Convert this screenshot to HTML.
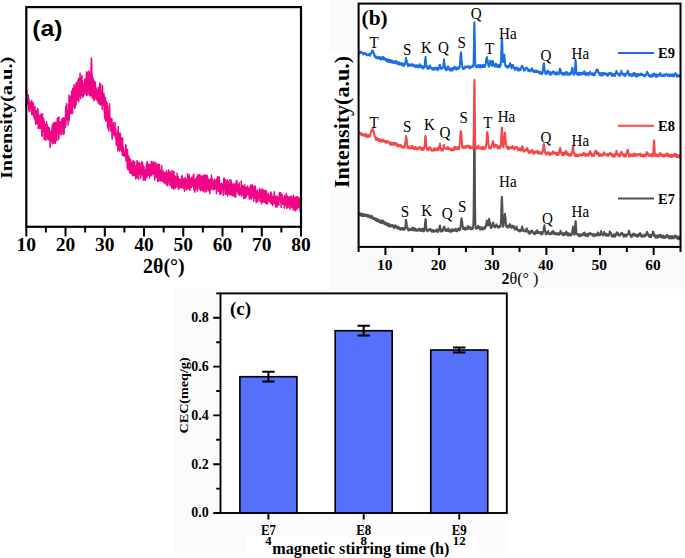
<!DOCTYPE html><html><head><meta charset="utf-8"><style>html,body{margin:0;padding:0;background:#fff;}svg{display:block;}text{font-family:"Liberation Serif",serif;}</style></head><body>
<svg width="685" height="558" viewBox="0 0 685 558">
<rect x="0" y="0" width="685" height="558" fill="#fff"/>
<rect x="331" y="0" width="354" height="289" fill="#fafafa"/>
<rect x="174" y="289" width="334.5" height="263.5" fill="#fbfbfb"/>
<rect x="245.7" y="536" width="229.3" height="22" fill="#fff"/>
<rect x="358.6" y="3.6" width="322" height="243.3" fill="#fff"/>
<rect x="331" y="51" width="20.5" height="140" fill="#fff"/>
<g>
<path d="M26.3,109.18 26.44,98.59 26.59,97.64 26.73,89.82 26.88,100.3 27.02,98.76 27.17,97.73 27.31,102.23 27.46,102.86 27.6,95.27 27.75,96.29 27.89,98.49 28.03,104.6 28.18,104.21 28.32,94.93 28.47,96.16 28.61,105.89 28.76,110.41 28.9,102.52 29.05,99.49 29.19,108.75 29.34,101.92 29.48,107.4 29.63,111.8 29.77,107.44 29.91,104.92 30.06,108.48 30.2,101.89 30.35,104.48 30.49,102.78 30.64,104.89 30.78,103.76 30.93,105.52 31.07,104.83 31.22,107.41 31.36,107.55 31.5,108.96 31.65,114.62 31.79,100.51 31.94,114.61 32.08,107.43 32.23,102.89 32.37,108.29 32.52,109.83 32.66,114.79 32.81,104.83 32.95,111.24 33.1,111.03 33.24,102.7 33.38,105.35 33.53,114.12 33.67,114.83 33.82,116.95 33.96,114.59 34.11,114.2 34.25,113.19 34.4,118.55 34.54,109.2 34.69,112.75 34.83,115.48 34.97,106.61 35.12,120.3 35.26,110.69 35.41,114.29 35.55,124.33 35.7,111.13 35.84,112.77 35.99,123.03 36.13,110.54 36.28,113.88 36.42,118.71 36.57,118.65 36.71,119.56 36.85,118.7 37,123.76 37.14,122.38 37.29,120.52 37.43,114.33 37.58,114.38 37.72,108.53 37.87,121.93 38.01,109.33 38.16,123.4 38.3,128.63 38.44,113.82 38.59,115.99 38.73,117.28 38.88,124.36 39.02,115.67 39.17,119.75 39.31,117.89 39.46,119.55 39.6,128.04 39.75,116.15 39.89,121.95 40.03,123.26 40.18,126.69 40.32,115.31 40.47,128.59 40.61,125.08 40.76,127.75 40.9,123.53 41.05,114.19 41.19,119.94 41.34,128.4 41.48,124.23 41.63,123.97 41.77,134.68 41.91,136.14 42.06,124.7 42.2,136.29 42.35,113.82 42.49,113.96 42.64,130.87 42.78,124.5 42.93,129.66 43.07,129.53 43.22,126.18 43.36,130.98 43.5,128.05 43.65,118.2 43.79,128.92 43.94,128.94 44.08,139.15 44.23,121.41 44.37,128.6 44.52,126.12 44.66,128.12 44.81,139.39 44.95,131.7 45.1,126.68 45.24,130.73 45.38,134.75 45.53,123.99 45.67,128.74 45.82,140.24 45.96,136.16 46.11,130.73 46.25,128.22 46.4,130.45 46.54,121.87 46.69,137.78 46.83,134.2 46.97,133.12 47.12,124.24 47.26,128.13 47.41,136.14 47.55,134.71 47.7,130.12 47.84,136.71 47.99,139.69 48.13,129.59 48.28,130.71 48.42,128.74 48.57,127.1 48.71,139.85 48.85,138.22 49,137.33 49.14,127.78 49.29,128.79 49.43,135.32 49.58,133.29 49.72,136.71 49.87,131.3 50.01,140.01 50.16,147.37 50.3,145.63 50.44,145.95 50.59,135.87 50.73,141.3 50.88,132.79 51.02,141.11 51.17,132.61 51.31,131.81 51.46,130.72 51.6,139.32 51.75,136.49 51.89,135.83 52.04,127.19 52.18,135.37 52.32,125.09 52.47,143.78 52.61,133.35 52.76,135.35 52.9,133.34 53.05,123.77 53.19,125.05 53.34,133.58 53.48,143.23 53.63,126.45 53.77,128.99 53.91,133.11 54.06,122.55 54.2,122.41 54.35,130.53 54.49,132.78 54.64,130.48 54.78,142.61 54.93,131.69 55.07,134.9 55.22,142.64 55.36,143.19 55.5,122.18 55.65,129.75 55.79,139.38 55.94,123.18 56.08,125.95 56.23,123.47 56.37,122.96 56.52,124.28 56.66,132.43 56.81,139.19 56.95,140.7 57.1,131.04 57.24,118.46 57.38,130.37 57.53,128.48 57.67,132.7 57.82,129.57 57.96,119.01 58.11,132.72 58.25,117.51 58.4,125.59 58.54,131.73 58.69,131.85 58.83,139.35 58.97,116.97 59.12,131.43 59.26,133.48 59.41,127.04 59.55,132.88 59.7,121.83 59.84,132.52 59.99,131.54 60.13,121.86 60.28,123.57 60.42,126.31 60.57,123.12 60.71,133.64 60.85,127.9 61,134.95 61.14,133.85 61.29,126.47 61.43,124.6 61.58,119.46 61.72,120.13 61.87,119.89 62.01,127.19 62.16,118.83 62.3,124.95 62.44,125.47 62.59,120.64 62.73,122.47 62.88,133.22 63.02,134.15 63.17,117.7 63.31,121.45 63.46,119.99 63.6,120.41 63.75,132.66 63.89,126.58 64.04,130.35 64.18,133.76 64.32,118.04 64.47,119.52 64.61,120.76 64.76,127.39 64.9,119.12 65.05,124.02 65.19,127.39 65.34,127 65.48,121.54 65.63,112.38 65.77,106.56 65.91,125.29 66.06,120.19 66.2,109.9 66.35,112.63 66.49,112.67 66.64,103.58 66.78,116.96 66.93,109.2 67.07,112.36 67.22,119.38 67.36,113.07 67.5,117.27 67.65,116.05 67.79,112.91 67.94,112.68 68.08,125.25 68.23,110.41 68.37,122.88 68.52,104.4 68.66,115.76 68.81,111.43 68.95,104.66 69.1,95.24 69.24,120.52 69.38,100.58 69.53,101.63 69.67,109.1 69.82,108.27 69.96,109.53 70.11,105.41 70.25,96.23 70.4,112.76 70.54,99.83 70.69,107.54 70.83,109.71 70.97,113.71 71.12,103.45 71.26,102.51 71.41,102.71 71.55,90.95 71.7,98.38 71.84,96.3 71.99,94.96 72.13,103.96 72.28,100.25 72.42,113.4 72.57,112.31 72.71,88.23 72.85,102.04 73,93.82 73.14,104.46 73.29,101.34 73.43,106.44 73.58,101.77 73.72,104.61 73.87,96.86 74.01,84.62 74.16,90.02 74.3,92.02 74.44,94.25 74.59,90.28 74.73,108.43 74.88,95.53 75.02,105.42 75.17,93.69 75.31,107.25 75.46,87.05 75.6,99.25 75.75,85.51 75.89,97.5 76.04,105.12 76.18,82.44 76.32,87.41 76.47,94.83 76.61,91.52 76.76,83.01 76.9,100.16 77.05,92.19 77.19,100.44 77.34,93.38 77.48,82.9 77.63,87.22 77.77,99.73 77.91,80.34 78.06,86.36 78.2,93.37 78.35,95.89 78.49,94.27 78.64,78.15 78.78,101.65 78.93,86.48 79.07,87.37 79.22,86.98 79.36,85.4 79.51,80.36 79.65,84.72 79.79,95.97 79.94,77.63 80.08,73.26 80.23,90.55 80.37,89.19 80.52,91.85 80.66,98.7 80.81,81.85 80.95,88.04 81.1,90.27 81.24,95.29 81.38,93.86 81.53,80.93 81.67,77.21 81.82,84.84 81.96,75.52 82.11,94.42 82.25,83.94 82.4,84.19 82.54,80.45 82.69,97.29 82.83,88.64 82.97,83.73 83.12,90.89 83.26,85.99 83.41,90.74 83.55,95.84 83.7,84.67 83.84,90.14 83.99,89.89 84.13,94.52 84.28,90.68 84.42,86.66 84.57,81.84 84.71,88.47 84.85,78.89 85,90.98 85.14,86.71 85.29,90.17 85.43,82.52 85.58,80.48 85.72,79.66 85.87,94.03 86.01,84.55 86.16,84.44 86.3,73.29 86.44,85.61 86.59,71.73 86.73,95.67 86.88,84.21 87.02,86.05 87.17,75.69 87.31,78.03 87.46,90.13 87.6,84.3 87.75,88.82 87.89,94.79 88.04,90.43 88.18,72.13 88.32,78.62 88.47,77.51 88.61,79.09 88.76,71.29 88.9,71.26 89.05,80.23 89.19,81.35 89.34,89.38 89.48,83.47 89.63,96.01 89.77,72.94 89.91,76.13 90.06,87.91 90.2,84.28 90.35,79.34 90.49,91.78 90.64,94.06 90.78,95.65 90.93,83.89 91.07,86.68 91.22,88.37 91.36,87.29 91.51,93.88 91.65,83.78 91.79,89.64 91.94,73.96 92.08,92.33 92.23,98.21 92.37,87.34 92.52,94.34 92.66,76.93 92.81,85.63 92.95,77.99 93.1,89.97 93.24,91.34 93.38,79.5 93.53,82.91 93.67,84.65 93.82,100.76 93.96,88.02 94.11,89.39 94.25,91.07 94.4,90.9 94.54,87.88 94.69,81.6 94.83,85.73 94.97,99.62 95.12,91.72 95.26,88.22 95.41,82.57 95.55,90.53 95.7,91.28 95.84,87.36 95.99,96.95 96.13,88.16 96.28,90.94 96.42,97.38 96.57,93.8 96.71,99.61 96.85,91.43 97,90.37 97.14,96.25 97.29,94.88 97.43,101.27 97.58,96.56 97.72,94.02 97.87,97.3 98.01,98.86 98.16,87.6 98.3,94.15 98.44,93.12 98.59,103.39 98.73,92.55 98.88,103 99.02,87.73 99.17,95.9 99.31,103.56 99.46,94.82 99.6,104.49 99.75,83.32 99.89,97.2 100.04,98.26 100.18,96.45 100.32,87.13 100.47,102.17 100.61,84.01 100.76,104.42 100.9,100.05 101.05,105 101.19,96.58 101.34,90.79 101.48,95.06 101.63,95.56 101.77,103.09 101.91,96.91 102.06,102.12 102.2,102.76 102.35,109.48 102.49,85.74 102.64,97 102.78,104.83 102.93,105.01 103.07,96.35 103.22,98.6 103.36,99.96 103.51,101.71 103.65,96.93 103.79,96.51 103.94,93.56 104.08,99.26 104.23,112.33 104.37,96.08 104.52,110.22 104.66,117.69 104.81,105.69 104.95,118.93 105.1,104.13 105.24,117.64 105.38,105.71 105.53,97.72 105.67,109.48 105.82,121.12 105.96,103.58 106.11,111.82 106.25,101.5 106.4,102.76 106.54,113.01 106.69,108.77 106.83,114.73 106.98,120.39 107.12,102.79 107.26,106.86 107.41,112.71 107.55,127.3 107.7,110.88 107.84,110.16 107.99,117.45 108.13,129.11 108.28,110.81 108.42,113.32 108.57,116.34 108.71,122.06 108.85,131.11 109,108.12 109.14,105.49 109.29,119.19 109.43,122.33 109.58,103.73 109.72,114.76 109.87,126.56 110.01,116.19 110.16,123.87 110.3,122.02 110.44,125.83 110.59,124.65 110.73,123.79 110.88,131.21 111.02,118.7 111.17,123.96 111.31,131.48 111.46,119.89 111.6,121.62 111.75,119.31 111.89,118.39 112.04,138.72 112.18,129.06 112.32,139.27 112.47,131.64 112.61,127.44 112.76,125.33 112.9,129.49 113.05,127.73 113.19,134.7 113.34,122.78 113.48,130.32 113.63,132.7 113.77,128.3 113.91,128.62 114.06,134.27 114.2,134.65 114.35,130.47 114.49,131.4 114.64,128.06 114.78,135.86 114.93,131.64 115.07,122.29 115.22,131 115.36,137.46 115.51,135.55 115.65,128.13 115.79,139.14 115.94,138.59 116.08,138.91 116.23,145.19 116.37,133.37 116.52,139.76 116.66,134.48 116.81,142.83 116.95,144.25 117.1,140.22 117.24,142.16 117.38,132.51 117.53,141.98 117.67,130.75 117.82,150.94 117.96,146.22 118.11,129.58 118.25,126.63 118.4,147.98 118.54,134.78 118.69,143.79 118.83,132.59 118.98,141.36 119.12,137.21 119.26,145.12 119.41,139.68 119.55,150.99 119.7,137.7 119.84,150.2 119.99,142.71 120.13,146.16 120.28,133.99 120.42,133.38 120.57,150 120.71,137.09 120.85,142.5 121,142.9 121.14,139.89 121.29,146.41 121.43,137.66 121.58,139.22 121.72,151.2 121.87,141.97 122.01,150.7 122.16,150.52 122.3,155.37 122.44,149.92 122.59,138.04 122.73,144.62 122.88,146.16 123.02,154.98 123.17,150.66 123.31,146.65 123.46,151.65 123.6,147.93 123.75,152.8 123.89,151.13 124.04,156.18 124.18,152.66 124.32,156.24 124.47,151.58 124.61,155.46 124.76,151.52 124.9,155.75 125.05,154 125.19,152.62 125.34,151.49 125.48,152.52 125.63,156.49 125.77,144.76 125.91,160.84 126.06,145.46 126.2,154.64 126.35,154.36 126.49,159.93 126.64,157.89 126.78,156.94 126.93,157.95 127.07,162.49 127.22,167.93 127.36,160.55 127.51,149.58 127.65,157.54 127.79,161.93 127.94,169.85 128.08,157.09 128.23,159.36 128.37,164.17 128.52,163.45 128.66,156.07 128.81,167.18 128.95,156.92 129.1,162.26 129.24,170.12 129.38,158.13 129.53,163.1 129.67,172.9 129.82,164.29 129.96,161.02 130.11,163.42 130.25,170.19 130.4,159.18 130.54,163.7 130.69,160.04 130.83,161.61 130.98,173.16 131.12,166.95 131.26,165.47 131.41,169.67 131.55,164.54 131.7,162.43 131.84,173.54 131.99,172.47 132.13,164.61 132.28,172.01 132.42,175.69 132.57,171.3 132.71,171.37 132.85,163.29 133,168.48 133.14,160.42 133.29,174.35 133.43,168.38 133.58,175.39 133.72,165.64 133.87,173.36 134.01,161.91 134.16,167.45 134.3,171.92 134.45,171.06 134.59,169.16 134.73,161.76 134.88,175.68 135.02,172.61 135.17,174.88 135.31,174.85 135.46,167.85 135.6,171.48 135.75,178.98 135.89,165.78 136.04,171.64 136.18,167.14 136.32,178 136.47,170.64 136.61,164.98 136.76,167.05 136.9,163.31 137.05,160.66 137.19,160.69 137.34,166.59 137.48,164.72 137.63,170.77 137.77,166.21 137.91,171.18 138.06,178.49 138.2,164.65 138.35,164.51 138.49,174.87 138.64,179.59 138.78,166.19 138.93,162.38 139.07,169 139.22,168.49 139.36,173.77 139.51,165.46 139.65,169.25 139.79,169.05 139.94,163.12 140.08,163.18 140.23,172.71 140.37,173.21 140.52,166.92 140.66,178.07 140.81,175.13 140.95,172.94 141.1,173.66 141.24,172.47 141.38,174.26 141.53,174.96 141.67,171.23 141.82,161.66 141.96,170.2 142.11,167.03 142.25,165.34 142.4,173.77 142.54,162.52 142.69,174.86 142.83,167.9 142.98,165.11 143.12,166.79 143.26,180.24 143.41,177.87 143.55,169.55 143.7,175.93 143.84,179.31 143.99,166.74 144.13,169.5 144.28,175.21 144.42,172.75 144.57,169.08 144.71,178.55 144.85,173.24 145,174.58 145.14,180.15 145.29,173.13 145.43,180.13 145.58,172.25 145.72,170.03 145.87,171.4 146.01,174.92 146.16,173.88 146.3,172.53 146.45,163.74 146.59,165.61 146.73,169.49 146.88,174.18 147.02,177.56 147.17,161.52 147.31,170 147.46,168.53 147.6,170.17 147.75,171.67 147.89,166.64 148.04,164.42 148.18,175.42 148.32,174.18 148.47,168.67 148.61,170.05 148.76,167.36 148.9,163.98 149.05,173.65 149.19,167.46 149.34,165.32 149.48,167.75 149.63,178.27 149.77,172.64 149.91,171.66 150.06,170.98 150.2,174.59 150.35,173.97 150.49,164.42 150.64,169.39 150.78,167.47 150.93,171.5 151.07,170.19 151.22,161.44 151.36,175.84 151.51,171.67 151.65,162.35 151.79,175.76 151.94,170.99 152.08,172.61 152.23,170.53 152.37,171.13 152.52,168.01 152.66,162.6 152.81,167.45 152.95,171.15 153.1,170.53 153.24,173.43 153.38,170.02 153.53,161.66 153.67,173.98 153.82,166.89 153.96,164.48 154.11,169.27 154.25,164.5 154.4,172.53 154.54,166.65 154.69,179.94 154.83,169.89 154.98,168.53 155.12,168.15 155.26,162.5 155.41,167.28 155.55,167.86 155.7,169.89 155.84,162.78 155.99,171.73 156.13,177.54 156.28,169.72 156.42,171.52 156.57,173.8 156.71,168.24 156.85,169.98 157,176.44 157.14,173.02 157.29,166.6 157.43,164.14 157.58,181.6 157.72,174.5 157.87,165.29 158.01,173.33 158.16,175.8 158.3,173.32 158.45,164.29 158.59,181.2 158.73,175.75 158.88,172.2 159.02,176.28 159.17,172.22 159.31,171.79 159.46,177.45 159.6,164.61 159.75,178.1 159.89,175.43 160.04,177.15 160.18,177.92 160.32,180.92 160.47,180.48 160.61,178.02 160.76,172.34 160.9,177.29 161.05,172.08 161.19,169.99 161.34,176.47 161.48,176.1 161.63,179.95 161.77,165.66 161.92,177.41 162.06,177.82 162.2,175.37 162.35,181.62 162.49,171.06 162.64,176.6 162.78,173.48 162.93,175.16 163.07,170.93 163.22,174.74 163.36,178.47 163.51,176.05 163.65,177.13 163.79,172.21 163.94,182.84 164.08,172.66 164.23,175.94 164.37,178.56 164.52,175.18 164.66,179.45 164.81,176.99 164.95,183.82 165.1,178.73 165.24,178.11 165.38,172.79 165.53,178.53 165.67,181.01 165.82,178.45 165.96,172.51 166.11,174.29 166.25,175.75 166.4,176.94 166.54,170.76 166.69,185.29 166.83,176.6 166.98,177.61 167.12,175.21 167.26,177.04 167.41,185.79 167.55,173.16 167.7,175.12 167.84,172.91 167.99,175.11 168.13,184.36 168.28,174.9 168.42,175.73 168.57,169.84 168.71,176.28 168.85,178.94 169,175.86 169.14,176.32 169.29,181.65 169.43,180.53 169.58,177.83 169.72,174.92 169.87,171.82 170.01,185.85 170.16,171.78 170.3,181.46 170.45,177.83 170.59,175.55 170.73,182.72 170.88,175.65 171.02,184.51 171.17,174.52 171.31,181.28 171.46,184.8 171.6,174.99 171.75,187.97 171.89,183.17 172.04,170.59 172.18,185.66 172.32,188.03 172.47,178.51 172.61,178.88 172.76,181.45 172.9,171.47 173.05,180.63 173.19,184.15 173.34,177.64 173.48,185.09 173.63,188.94 173.77,171.57 173.92,172.3 174.06,177.27 174.2,183.3 174.35,182.25 174.49,176.52 174.64,175.62 174.78,177.48 174.93,188.41 175.07,176.62 175.22,178.36 175.36,185.29 175.51,179.88 175.65,176.66 175.79,187.57 175.94,182.68 176.08,178.12 176.23,179.51 176.37,185.46 176.52,179.66 176.66,182.5 176.81,185.38 176.95,185.9 177.1,173.13 177.24,179.26 177.39,179.99 177.53,181.99 177.67,185.05 177.82,186.89 177.96,179.58 178.11,176.65 178.25,182.57 178.4,179.02 178.54,189.62 178.69,183.43 178.83,182.08 178.98,186.39 179.12,178.9 179.26,180.36 179.41,181.15 179.55,184.95 179.7,187.95 179.84,185.64 179.99,185.52 180.13,181.07 180.28,183.83 180.42,181.09 180.57,187.47 180.71,179.32 180.85,181.9 181,183.36 181.14,185.88 181.29,178.97 181.43,181.27 181.58,178.58 181.72,176.21 181.87,187.41 182.01,184.54 182.16,175.54 182.3,177.98 182.45,185.07 182.59,179.72 182.73,177.68 182.88,188.35 183.02,180.35 183.17,180.9 183.31,185.24 183.46,179.36 183.6,182.77 183.75,183.45 183.89,186.17 184.04,179.3 184.18,187.8 184.32,184.37 184.47,191.16 184.61,183.86 184.76,180.37 184.9,180.38 185.05,177.62 185.19,182.89 185.34,182.62 185.48,187.12 185.63,183.36 185.77,179.05 185.92,187.79 186.06,181.01 186.2,184.29 186.35,189.88 186.49,189.03 186.64,179.69 186.78,182.57 186.93,189.38 187.07,187.72 187.22,185.67 187.36,187.28 187.51,173.78 187.65,181.77 187.79,176.42 187.94,180.16 188.08,181.35 188.23,185.35 188.37,188.62 188.52,186.8 188.66,184.4 188.81,181.46 188.95,189.1 189.1,184.35 189.24,174.84 189.39,182.8 189.53,185.44 189.67,178.6 189.82,184.13 189.96,190.18 190.11,181.9 190.25,182.85 190.4,182.9 190.54,178.54 190.69,180.87 190.83,178.37 190.98,181.72 191.12,179.32 191.26,187.59 191.41,182.55 191.55,187.08 191.7,177.19 191.84,183.02 191.99,185.82 192.13,186.39 192.28,180.23 192.42,182.66 192.57,183.67 192.71,181.56 192.85,181.23 193,185.65 193.14,177.64 193.29,174.72 193.43,180.94 193.58,184.59 193.72,174.31 193.87,189.63 194.01,183.75 194.16,186.04 194.3,179.4 194.45,183.16 194.59,191.92 194.73,192.13 194.88,186.35 195.02,182.13 195.17,182.93 195.31,189.66 195.46,180.13 195.6,179.1 195.75,182.84 195.89,187.75 196.04,178.46 196.18,185.16 196.32,185.25 196.47,184.12 196.61,182.79 196.76,187.87 196.9,186.22 197.05,176.66 197.19,191.06 197.34,185.66 197.48,185 197.63,181.83 197.77,182.13 197.92,174.67 198.06,182.41 198.2,186.28 198.35,186.39 198.49,180.31 198.64,174.73 198.78,178.19 198.93,182.05 199.07,189.54 199.22,175.93 199.36,183.63 199.51,186.33 199.65,186.5 199.79,183.15 199.94,174.84 200.08,186.45 200.23,184.23 200.37,186.18 200.52,179.22 200.66,181.43 200.81,190.79 200.95,183.31 201.1,183.74 201.24,180.42 201.39,189.73 201.53,176.11 201.67,181.41 201.82,185.91 201.96,183.73 202.11,188.09 202.25,185.96 202.4,190.77 202.54,182.96 202.69,183.43 202.83,185.39 202.98,175.72 203.12,190.77 203.26,179.84 203.41,189.48 203.55,190.94 203.7,188.94 203.84,185.12 203.99,181.21 204.13,175.09 204.28,186.86 204.42,183.09 204.57,192.3 204.71,182.83 204.86,187.18 205,182.32 205.14,186.25 205.29,182.59 205.43,183.43 205.58,175.36 205.72,180.86 205.87,183.51 206.01,190.24 206.16,185.51 206.3,178.46 206.45,191.71 206.59,185.9 206.73,189.49 206.88,179.95 207.02,175.06 207.17,180.59 207.31,179.38 207.46,185.47 207.6,176.94 207.75,180.01 207.89,177.76 208.04,184.86 208.18,179.85 208.32,190.73 208.47,187.97 208.61,188.23 208.76,183.25 208.9,185.39 209.05,188.36 209.19,180.28 209.34,190.16 209.48,183.93 209.63,190.26 209.77,193.64 209.92,191.69 210.06,179.21 210.2,190.04 210.35,182.81 210.49,182.31 210.64,183.19 210.78,178.76 210.93,185.43 211.07,180.95 211.22,189.52 211.36,185.81 211.51,175.12 211.65,179.78 211.79,179.55 211.94,181.05 212.08,181.17 212.23,185.21 212.37,183.51 212.52,179.18 212.66,186.27 212.81,188.46 212.95,184.29 213.1,189.69 213.24,186.23 213.39,181.67 213.53,182.43 213.67,184.26 213.82,186.69 213.96,185.04 214.11,188.76 214.25,189.59 214.4,179.73 214.54,179.09 214.69,183.94 214.83,186.52 214.98,188.63 215.12,187.47 215.26,187.37 215.41,180.4 215.55,186.35 215.7,181.77 215.84,186.6 215.99,188.81 216.13,181.77 216.28,183.75 216.42,193.81 216.57,181.52 216.71,182.68 216.86,180.09 217,178.58 217.14,189.5 217.29,182.06 217.43,182.35 217.58,181.59 217.72,176.42 217.87,188.56 218.01,182.8 218.16,185.07 218.3,191.41 218.45,184.73 218.59,185.97 218.73,186.22 218.88,191.13 219.02,179.57 219.17,183.07 219.31,176.92 219.46,185.75 219.6,188.5 219.75,183.86 219.89,194.48 220.04,190.13 220.18,194.46 220.32,186.66 220.47,193.92 220.61,183.79 220.76,187.92 220.9,186.7 221.05,184.35 221.19,193.52 221.34,192.1 221.48,183.36 221.63,189.46 221.77,186.91 221.92,187.24 222.06,189.24 222.2,184.45 222.35,187.53 222.49,188.06 222.64,184.13 222.78,184.59 222.93,190.65 223.07,187.04 223.22,195.31 223.36,195.35 223.51,183.78 223.65,188.34 223.79,178.13 223.94,184.11 224.08,183.04 224.23,183.6 224.37,178.24 224.52,188.18 224.66,187.66 224.81,183.5 224.95,186.74 225.1,191.16 225.24,194.18 225.39,181.35 225.53,194.18 225.67,179.71 225.82,183.66 225.96,185.58 226.11,194.12 226.25,190.03 226.4,189.98 226.54,194.29 226.69,188.48 226.83,185.55 226.98,193.99 227.12,186.63 227.26,182.06 227.41,180.07 227.55,188.4 227.7,195.94 227.84,191.04 227.99,188.02 228.13,193.17 228.28,181.35 228.42,189.82 228.57,185.6 228.71,194.04 228.86,184.36 229,191.59 229.14,188.99 229.29,188.22 229.43,191.23 229.58,187.65 229.72,194.55 229.87,187.38 230.01,179.67 230.16,194.7 230.3,194.25 230.45,190.66 230.59,194.58 230.73,191.54 230.88,184.9 231.02,179.92 231.17,184.02 231.31,187.35 231.46,190.91 231.6,182.4 231.75,184.68 231.89,195.31 232.04,185.61 232.18,185.48 232.33,184.53 232.47,195.83 232.61,192.19 232.76,192.65 232.9,196 233.05,192.99 233.19,194.66 233.34,190.41 233.48,192.64 233.63,191.59 233.77,191.91 233.92,183.74 234.06,187.93 234.2,187.29 234.35,186.05 234.49,188.73 234.64,196.84 234.78,193.07 234.93,189.37 235.07,190.43 235.22,195.13 235.36,183.67 235.51,190.69 235.65,196.26 235.79,196.88 235.94,192.96 236.08,191.46 236.23,181.14 236.37,185.95 236.52,188.88 236.66,190.73 236.81,190.89 236.95,180.52 237.1,186.77 237.24,190.33 237.39,185.78 237.53,188.16 237.67,191.39 237.82,190.51 237.96,189.95 238.11,192.41 238.25,194.13 238.4,187.96 238.54,184.66 238.69,186.22 238.83,187.13 238.98,189.1 239.12,182.74 239.26,186 239.41,188.24 239.55,195.28 239.7,191.66 239.84,188.74 239.99,193.26 240.13,190.22 240.28,190.47 240.42,194.12 240.57,190.96 240.71,190.18 240.86,192.67 241,187.17 241.14,189.77 241.29,180.95 241.43,187.79 241.58,196.32 241.72,188.08 241.87,189.66 242.01,187.84 242.16,185.23 242.3,191.83 242.45,189.63 242.59,194.49 242.73,185.9 242.88,189.94 243.02,188.31 243.17,187.25 243.31,194.53 243.46,186.66 243.6,186.72 243.75,198.55 243.89,189.58 244.04,189.01 244.18,191.93 244.33,185.57 244.47,191.48 244.61,184.85 244.76,187.92 244.9,187.51 245.05,195.89 245.19,192.84 245.34,198.17 245.48,197.49 245.63,187.29 245.77,192.62 245.92,188.5 246.06,187.7 246.2,195.71 246.35,196.8 246.49,191.18 246.64,192.14 246.78,192.01 246.93,192.2 247.07,192.39 247.22,186.52 247.36,193.64 247.51,188.04 247.65,185.92 247.79,190.53 247.94,192.37 248.08,194.91 248.23,192.96 248.37,192.65 248.52,188.54 248.66,193.22 248.81,192.46 248.95,192.86 249.1,188.41 249.24,199.1 249.39,195.05 249.53,194.78 249.67,192.29 249.82,190.7 249.96,196.04 250.11,186.3 250.25,190.11 250.4,190.9 250.54,194.68 250.69,190.93 250.83,198.44 250.98,184.83 251.12,199.15 251.26,193.85 251.41,196.57 251.55,190.42 251.7,197.08 251.84,191.33 251.99,193.87 252.13,186.55 252.28,195.2 252.42,193.47 252.57,185.06 252.71,192.64 252.86,191.78 253,196.62 253.14,190.4 253.29,194.1 253.43,198.73 253.58,189.77 253.72,201.28 253.87,194.54 254.01,192.63 254.16,187.98 254.3,186.35 254.45,197.69 254.59,191.9 254.73,191.31 254.88,198.29 255.02,196.75 255.17,194.54 255.31,188.11 255.46,186.2 255.6,198.06 255.75,194.09 255.89,193.27 256.04,202.14 256.18,192.76 256.33,195.97 256.47,202.62 256.61,197.1 256.76,192.49 256.9,191.39 257.05,199.68 257.19,189.96 257.34,198.27 257.48,201.44 257.63,194.69 257.77,198.41 257.92,195.49 258.06,200.86 258.2,196.41 258.35,192.64 258.49,196.86 258.64,196.09 258.78,193.16 258.93,194.67 259.07,190.94 259.22,192.41 259.36,198.2 259.51,188.6 259.65,196.85 259.8,195.86 259.94,193.58 260.08,201.28 260.23,198.57 260.37,193.69 260.52,196.77 260.66,199.52 260.81,190.09 260.95,196.92 261.1,195.2 261.24,197.67 261.39,203.68 261.53,193.8 261.67,195 261.82,191.83 261.96,197.17 262.11,198.71 262.25,188.95 262.4,201.96 262.54,202.47 262.69,189.06 262.83,190.91 262.98,198.39 263.12,197.01 263.26,201.09 263.41,195.69 263.55,201.63 263.7,191.73 263.84,198.43 263.99,195.31 264.13,195.21 264.28,190.39 264.42,195.53 264.57,202.23 264.71,194.71 264.86,196.31 265,197.71 265.14,193.63 265.29,198.29 265.43,199.43 265.58,196.48 265.72,190.46 265.87,203.18 266.01,197.69 266.16,197.46 266.3,196.79 266.45,195.4 266.59,191.43 266.73,197.51 266.88,198.29 267.02,201.46 267.17,203.92 267.31,195.12 267.46,203.9 267.6,198.25 267.75,200.15 267.89,194.19 268.04,199.33 268.18,194.56 268.33,200.63 268.47,193.47 268.61,198.34 268.76,196.66 268.9,199.6 269.05,199.25 269.19,198.95 269.34,196.5 269.48,201.67 269.63,200.61 269.77,195.59 269.92,201.35 270.06,196.19 270.2,198.97 270.35,198.32 270.49,198.37 270.64,201.74 270.78,192.06 270.93,203.61 271.07,192.27 271.22,203.58 271.36,201.09 271.51,193.46 271.65,200.41 271.8,197.94 271.94,194.74 272.08,203.75 272.23,203.45 272.37,200.74 272.52,205.65 272.66,199.96 272.81,198.39 272.95,204.39 273.1,196.71 273.24,202.51 273.39,203.73 273.53,200.41 273.67,200 273.82,201.45 273.96,200.58 274.11,197.07 274.25,191.8 274.4,197.8 274.54,194.25 274.69,203.44 274.83,198.08 274.98,200.72 275.12,202.67 275.26,203.72 275.41,196.4 275.55,206.87 275.7,203.4 275.84,202.38 275.99,196.55 276.13,206.95 276.28,202.51 276.42,204.26 276.57,198.95 276.71,207.04 276.86,205.67 277,199.75 277.14,207.1 277.29,196.18 277.43,203.47 277.58,202.64 277.72,202.81 277.87,197.55 278.01,198.84 278.16,203.82 278.3,204.22 278.45,200 278.59,199.22 278.73,198.25 278.88,205.25 279.02,199.65 279.17,198.15 279.31,193.04 279.46,193.48 279.6,195.95 279.75,192.6 279.89,198.63 280.04,199.02 280.18,196.39 280.33,198.57 280.47,199.83 280.61,193.53 280.76,202.86 280.9,192.76 281.05,207.58 281.19,194.69 281.34,200.37 281.48,198.92 281.63,201.71 281.77,197.47 281.92,202.36 282.06,194.44 282.2,203.24 282.35,199.32 282.49,201.84 282.64,204.29 282.78,195.97 282.93,198.24 283.07,197.66 283.22,200.15 283.36,201.16 283.51,203.29 283.65,201.4 283.8,200.01 283.94,202.67 284.08,204.53 284.23,204.31 284.37,208.15 284.52,198.34 284.66,201.61 284.81,195.7 284.95,198.18 285.1,203.14 285.24,205.56 285.39,198.99 285.53,202.63 285.67,201.2 285.82,202.84 285.96,201.77 286.11,199.17 286.25,193.54 286.4,195.37 286.54,202.49 286.69,200.75 286.83,208.55 286.98,201.33 287.12,204.63 287.26,196.79 287.41,196.02 287.55,202.06 287.7,207.62 287.84,202.9 287.99,200.22 288.13,202.97 288.28,203.81 288.42,203.21 288.57,201.65 288.71,197.64 288.86,197.36 289,199.74 289.14,201.22 289.29,196.81 289.43,207.76 289.58,204.05 289.72,199.87 289.87,204.75 290.01,209.35 290.16,202.88 290.3,202.84 290.45,205.9 290.59,197 290.73,200 290.88,199.28 291.02,205.07 291.17,195.92 291.31,203.47 291.46,200.49 291.6,201.27 291.75,200.28 291.89,207.9 292.04,199.22 292.18,198.01 292.33,203.67 292.47,200.38 292.61,204.49 292.76,202.4 292.9,202.79 293.05,202.89 293.19,196.39 293.34,195.31 293.48,210.23 293.63,198.44 293.77,204.8 293.92,198.69 294.06,202.59 294.2,201.97 294.35,208.42 294.49,202.26 294.64,197.32 294.78,197.79 294.93,204.26 295.07,206.43 295.22,210.66 295.36,210.7 295.51,197.98 295.65,202.88 295.8,198.8 295.94,204.44 296.08,206.43 296.23,196.63 296.37,206.7 296.52,206.23 296.66,202.63 296.81,201.37 296.95,209.85 297.1,203.13 297.24,199.65 297.39,204.17 297.53,207.67 297.67,206.4 297.82,196.54 297.96,198.8 298.11,202.37 298.25,204.49 298.4,204.51 298.54,199.29 298.69,207.44 298.83,205.81 298.98,198.19 299.12,200.51 299.27,203.71 299.41,198.48 299.55,204.3 299.7,204.86 299.84,202.62 299.99,206.44 300.13,211.07 300.28,201.89 300.42,206.15 300.57,202.73 300.71,210.17 300.86,209.15 301,204.5" fill="none" stroke="#ef0585" stroke-width="1.5" stroke-linejoin="round"/>
<path d="M90.84,80 L91.44,57.5 L92.04,82" fill="none" stroke="#ef0585" stroke-width="1.6"/>
<rect x="26.3" y="7.1" width="274.7" height="219.7" fill="none" stroke="#000" stroke-width="2.2"/>
<path d="M26.3,226.8 V236.4 M45.92,226.8 V232.6 M65.54,226.8 V236.4 M85.16,226.8 V232.6 M104.79,226.8 V236.4 M124.41,226.8 V232.6 M144.03,226.8 V236.4 M163.65,226.8 V232.6 M183.27,226.8 V236.4 M202.89,226.8 V232.6 M222.51,226.8 V236.4 M242.14,226.8 V232.6 M261.76,226.8 V236.4 M281.38,226.8 V232.6 M301,226.8 V236.4" stroke="#000" stroke-width="2" fill="none"/>
<text x="26.3" y="251" font-size="19.5" font-weight="bold" text-anchor="middle">10</text>
<text x="65.54" y="251" font-size="19.5" font-weight="bold" text-anchor="middle">20</text>
<text x="104.79" y="251" font-size="19.5" font-weight="bold" text-anchor="middle">30</text>
<text x="144.03" y="251" font-size="19.5" font-weight="bold" text-anchor="middle">40</text>
<text x="183.27" y="251" font-size="19.5" font-weight="bold" text-anchor="middle">50</text>
<text x="222.51" y="251" font-size="19.5" font-weight="bold" text-anchor="middle">60</text>
<text x="261.76" y="251" font-size="19.5" font-weight="bold" text-anchor="middle">70</text>
<text x="301" y="251" font-size="19.5" font-weight="bold" text-anchor="middle">80</text>
<text x="143" y="272.5" font-size="20" font-weight="bold">2θ(°)</text>
<text transform="translate(11.9,117.9) rotate(-90) scale(1.2,1)" font-size="17" font-weight="bold" text-anchor="middle">Intensity(a.u.)</text>
<text transform="translate(32.2,36.2) scale(1.03,0.93)" font-size="24" font-weight="bold" style="font-family:'Liberation Sans',sans-serif">(a)</text>
</g>
<g>
<path d="M358.6,214.92 358.89,212.89 359.19,213.84 359.48,215.37 359.77,214.3 360.06,214.81 360.36,213.87 360.65,214.95 360.94,215.43 361.23,213.3 361.53,215.36 361.82,216.08 362.11,215.51 362.4,214.32 362.7,215.77 362.99,214 363.28,215.01 363.57,216.33 363.87,214.75 364.16,214.81 364.45,214.46 364.75,214.23 365.04,216.07 365.33,214.87 365.62,215.08 365.92,215.75 366.21,214.62 366.5,216.09 366.79,215 367.09,216.25 367.38,216.61 367.67,215.06 367.96,215.96 368.26,216.78 368.55,216.08 368.84,215.16 369.13,216.53 369.43,216.93 369.72,216.59 370.01,217.81 370.31,216.91 370.6,217.82 370.89,215.81 371.18,215.88 371.48,217.74 371.77,216.7 372.06,216.19 372.35,218.41 372.65,217.01 372.94,218.26 373.23,218.36 373.52,218.95 373.82,218.41 374.11,218.92 374.4,218 374.7,217.95 374.99,219.81 375.28,218.71 375.57,220.32 375.87,219.68 376.16,219.73 376.45,218.52 376.74,220.94 377.04,219.76 377.33,220.27 377.62,219.98 377.91,219.68 378.21,221.64 378.5,220.92 378.79,219.54 379.08,221.35 379.38,220.69 379.67,221.35 379.96,222.44 380.26,221.14 380.55,222.75 380.84,222.09 381.13,220.55 381.43,223.08 381.72,222.44 382.01,223.18 382.3,220.81 382.6,220.57 382.89,222.68 383.18,222.19 383.47,220.8 383.77,223.06 384.06,223.44 384.35,224.2 384.64,223.85 384.94,222.44 385.23,222.29 385.52,222.44 385.82,222.57 386.11,223.28 386.4,225.06 386.69,224.31 386.99,224.47 387.28,225.37 387.57,223.56 387.86,224.1 388.16,225.05 388.45,226.2 388.74,225.22 389.03,223.88 389.33,226.11 389.62,224.7 389.91,226.38 390.2,225.37 390.5,226.77 390.79,226.58 391.08,226.17 391.38,225.12 391.67,224.99 391.96,225.24 392.25,225.11 392.55,225.36 392.84,225.76 393.13,227.16 393.42,226.82 393.72,225.42 394.01,225.64 394.3,228.1 394.59,227.01 394.89,225.93 395.18,225.88 395.47,226.99 395.76,225.37 396.06,226.43 396.35,227.69 396.64,227.7 396.94,226.43 397.23,227.43 397.52,227.99 397.81,228.71 398.11,227 398.4,226.71 398.69,226.94 398.98,228.14 399.28,228.54 399.57,228.52 399.86,227.92 400.15,229.82 400.45,228.79 400.74,228.33 401.03,228.87 401.32,229.48 401.62,229.35 401.91,228.34 402.2,227.84 402.5,228.67 402.79,229.38 403.08,228.26 403.37,229.73 403.67,227.89 403.96,228.42 404.25,229.89 404.54,228.16 404.84,229.04 405.13,227.8 405.42,226.96 405.71,222.5 406.01,219.73 406.3,221.18 406.59,223.07 406.88,226.16 407.18,228.47 407.47,227.24 407.76,228.33 408.06,229.51 408.35,230.45 408.64,230.47 408.93,229.42 409.23,230.4 409.52,229.67 409.81,228.99 410.1,229.25 410.4,229.55 410.69,229.34 410.98,230.24 411.27,230.06 411.57,228.48 411.86,229.92 412.15,227.8 412.45,227.8 412.74,228.01 413.03,229.19 413.32,228.02 413.62,230.6 413.91,230.32 414.2,228.15 414.49,228.6 414.79,229.03 415.08,228.5 415.37,230.35 415.66,229.11 415.96,230.74 416.25,229.8 416.54,230.62 416.83,230.55 417.13,230.73 417.42,229.55 417.71,229.8 418.01,230.51 418.3,229.14 418.59,229.72 418.88,230.03 419.18,228.48 419.47,230.06 419.76,229.65 420.05,230.68 420.35,229.37 420.64,230.95 420.93,230.12 421.22,229.08 421.52,230.73 421.81,230.27 422.1,228.79 422.39,229.8 422.69,230.52 422.98,231.19 423.27,228.73 423.57,231.38 423.86,229.74 424.15,231.15 424.44,229.3 424.74,227.7 425.03,223.38 425.32,220.23 425.61,218.92 425.91,222.61 426.2,226.87 426.49,229.78 426.78,230.63 427.08,230.81 427.37,231.34 427.66,229.91 427.95,230.85 428.25,230.24 428.54,229.99 428.83,229.92 429.13,229.65 429.42,229.13 429.71,229.71 430,229.11 430.3,230.7 430.59,230.19 430.88,229.23 431.17,230.13 431.47,230.1 431.76,231.43 432.05,231.71 432.34,231.79 432.64,231.14 432.93,230.08 433.22,230.03 433.51,231.66 433.81,230.77 434.1,231.52 434.39,230.9 434.69,231.33 434.98,230.75 435.27,231.43 435.56,230.89 435.86,230.61 436.15,230.28 436.44,229.53 436.73,230.37 437.03,229.56 437.32,232 437.61,229.84 437.9,231.54 438.2,231.7 438.49,231.13 438.78,230.53 439.08,228.66 439.37,228.08 439.66,226.28 439.95,225.48 440.25,227.42 440.54,228.23 440.83,231.05 441.12,231.59 441.42,230 441.71,229.64 442,229.87 442.29,230.69 442.59,231.24 442.88,229.58 443.17,228.95 443.46,229.25 443.76,226.66 444.05,226.74 444.34,226.59 444.64,227.73 444.93,229.99 445.22,230.43 445.51,229.72 445.81,231.02 446.1,230.79 446.39,231.04 446.68,229.56 446.98,231.01 447.27,229.33 447.56,229.87 447.85,230.42 448.15,228.36 448.44,229.34 448.73,231.08 449.02,231.26 449.32,230.62 449.61,231.61 449.9,231.89 450.2,231.57 450.49,231.65 450.78,229.62 451.07,231.11 451.37,231.25 451.66,230.96 451.95,231.43 452.24,229.32 452.54,231.27 452.83,231.12 453.12,229.78 453.41,229.7 453.71,230.58 454,229.62 454.29,230.61 454.58,229.42 454.88,230.17 455.17,230.7 455.46,228.93 455.76,228.67 456.05,230.86 456.34,229.98 456.63,231.19 456.93,230.27 457.22,231.2 457.51,229.96 457.8,229.86 458.1,228.76 458.39,229.32 458.68,228.39 458.97,228.71 459.27,230.24 459.56,228.22 459.85,228.93 460.14,229.72 460.44,228 460.73,225.69 461.02,221.2 461.32,219.01 461.61,218.22 461.9,220.53 462.19,221.25 462.49,224.39 462.78,226.59 463.07,229.04 463.36,228.69 463.66,227.72 463.95,228.93 464.24,228.1 464.53,229.64 464.83,228.25 465.12,227.48 465.41,228.96 465.7,229.59 466,228.29 466.29,229.2 466.58,228.43 466.88,228.3 467.17,229.15 467.46,228.4 467.75,226.06 468.05,227.78 468.34,227.21 468.63,228.76 468.92,227.08 469.22,227.42 469.51,227.06 469.8,228.07 470.09,227.23 470.39,228.66 470.68,229.12 470.97,228.83 471.26,229.02 471.56,227.87 471.85,229.23 472.14,228.11 472.44,229.17 472.73,228.64 473.02,227.22 473.31,225.57 473.61,215.38 473.9,181.43 474.19,131.38 474.48,116.81 474.78,159.16 475.07,206.53 475.36,224.01 475.65,228.58 475.95,228.13 476.24,228.11 476.53,228.09 476.83,227.91 477.12,228.52 477.41,227.11 477.7,228.19 478,225.74 478.29,227.83 478.58,226.36 478.87,228.02 479.17,226.65 479.46,228.25 479.75,226.9 480.04,229.5 480.34,229.39 480.63,229.07 480.92,229.36 481.21,227.25 481.51,227.26 481.8,227.31 482.09,228.46 482.39,229.19 482.68,229.39 482.97,228.61 483.26,228.64 483.56,229.09 483.85,227.69 484.14,227.25 484.43,227.01 484.73,226.83 485.02,228.62 485.31,226.6 485.6,226.38 485.9,226.79 486.19,223.71 486.48,223.62 486.77,220.42 487.07,221.21 487.36,221.96 487.65,225.36 487.95,225.16 488.24,225.42 488.53,224.33 488.82,223.24 489.12,218.85 489.41,220.42 489.7,222.47 489.99,222.51 490.29,225.76 490.58,226.27 490.87,228.09 491.16,227.36 491.46,227.67 491.75,226.84 492.04,226.83 492.33,224.98 492.63,222.94 492.92,223.43 493.21,222.56 493.51,223.94 493.8,226.26 494.09,225.92 494.38,225.9 494.68,226.27 494.97,227.53 495.26,227.13 495.55,226.43 495.85,226.34 496.14,224.47 496.43,224.37 496.72,225.19 497.02,225.86 497.31,225.8 497.6,227.16 497.89,226.72 498.19,227.84 498.48,226.15 498.77,227.54 499.07,226.3 499.36,227.2 499.65,226.59 499.94,225.79 500.24,226.15 500.53,226.74 500.82,223.99 501.11,217.94 501.41,206.61 501.7,197.71 501.99,196.88 502.28,204.16 502.58,214.64 502.87,223.52 503.16,226.67 503.46,226.44 503.75,224.02 504.04,221.98 504.33,218.54 504.63,216.04 504.92,213.78 505.21,216.01 505.5,216.75 505.8,222.58 506.09,224.94 506.38,226.79 506.67,227.02 506.97,227.37 507.26,226.92 507.55,225.68 507.84,226.6 508.14,226.96 508.43,227.56 508.72,226.72 509.02,226.38 509.31,225.03 509.6,224.14 509.89,225.75 510.19,224.57 510.48,226.84 510.77,225.5 511.06,226.49 511.36,227.38 511.65,228.07 511.94,227.04 512.23,225.66 512.53,225.64 512.82,225.82 513.11,226.34 513.4,227.07 513.7,226.05 513.99,226.49 514.28,228.39 514.58,229.53 514.87,227.53 515.16,229.29 515.45,229.14 515.75,228.18 516.04,229.08 516.33,228.15 516.62,226.5 516.92,228.17 517.21,229.74 517.5,230.22 517.79,230.17 518.09,230.53 518.38,230.47 518.67,229.79 518.96,230.67 519.26,231.03 519.55,230.22 519.84,231.63 520.14,229.89 520.43,231.38 520.72,230.04 521.01,231 521.31,229.37 521.6,229.39 521.89,227.2 522.18,226.43 522.48,228.34 522.77,228.13 523.06,230.41 523.35,231.29 523.65,230.37 523.94,230.58 524.23,230.66 524.52,230.57 524.82,231.24 525.11,230.3 525.4,230.44 525.7,231.72 525.99,231.61 526.28,229.04 526.57,228.81 526.87,228.37 527.16,230.36 527.45,230.32 527.74,230.65 528.04,230.7 528.33,232.68 528.62,231.93 528.91,233.43 529.21,232.94 529.5,232.4 529.79,231.5 530.08,233.82 530.38,231.6 530.67,231.63 530.96,232.04 531.26,231.66 531.55,230.65 531.84,232.03 532.13,230.61 532.43,232.12 532.72,232.79 533.01,231.7 533.3,233.03 533.6,233.59 533.89,233.37 534.18,233.3 534.47,232.5 534.77,233.68 535.06,234.23 535.35,232.75 535.64,233.55 535.94,231.28 536.23,232.94 536.52,230.73 536.82,230.95 537.11,230.65 537.4,230.34 537.69,233.04 537.99,232.07 538.28,232.87 538.57,232.99 538.86,232.12 539.16,232.37 539.45,232.04 539.74,233.21 540.03,232.56 540.33,232.82 540.62,232.16 540.91,234 541.21,232.17 541.5,234.55 541.79,232.38 542.08,233.45 542.38,232.02 542.67,233.94 542.96,232.02 543.25,232.07 543.55,230.93 543.84,227.02 544.13,226.27 544.42,225.22 544.72,228.34 545.01,230.59 545.3,230.97 545.59,233.81 545.89,231.92 546.18,234.27 546.47,233.42 546.77,232.88 547.06,233.63 547.35,233.25 547.64,233.74 547.94,231.7 548.23,231.02 548.52,233.75 548.81,233.83 549.11,233.74 549.4,233.34 549.69,233.96 549.98,234.2 550.28,233.13 550.57,234.21 550.86,234.15 551.15,233.75 551.45,233.1 551.74,233.72 552.03,231.54 552.33,233.22 552.62,233.17 552.91,231.19 553.2,230.94 553.5,231.53 553.79,232.19 554.08,234.16 554.37,233.52 554.67,232.99 554.96,232.67 555.25,233.12 555.54,234.02 555.84,233.25 556.13,233.63 556.42,233.61 556.71,234.66 557.01,233.59 557.3,233.39 557.59,234.29 557.89,233.08 558.18,233.76 558.47,233.36 558.76,234.19 559.06,234.81 559.35,233.48 559.64,234.03 559.93,232.6 560.23,232.56 560.52,230.82 560.81,231.75 561.1,233.54 561.4,233.35 561.69,234.28 561.98,233.87 562.27,233.99 562.57,234.98 562.86,232.91 563.15,234.3 563.45,235.31 563.74,234.17 564.03,233.29 564.32,235 564.62,233.26 564.91,234.23 565.2,233.43 565.49,234.13 565.79,232.96 566.08,233.49 566.37,231.47 566.66,234.53 566.96,232.49 567.25,233.48 567.54,235.38 567.84,232.96 568.13,235.2 568.42,235.34 568.71,234.22 569.01,233.73 569.3,235.23 569.59,234.36 569.88,233.45 570.18,235.61 570.47,235.54 570.76,234.46 571.05,235.46 571.35,234.26 571.64,234.85 571.93,233.52 572.22,232.33 572.52,229 572.81,228.78 573.1,226.61 573.4,228.01 573.69,230.76 573.98,232.24 574.27,234.82 574.57,233.93 574.86,232.04 575.15,226.04 575.44,221.61 575.74,221.15 576.03,226.4 576.32,230.79 576.61,234.21 576.91,233.77 577.2,234.31 577.49,233.94 577.78,234.59 578.08,234.15 578.37,234.62 578.66,236.17 578.96,234.41 579.25,236.21 579.54,235.29 579.83,234.6 580.13,235.92 580.42,235.29 580.71,234.32 581,235.79 581.3,234.82 581.59,234.62 581.88,234.53 582.17,235.47 582.47,234.18 582.76,235.38 583.05,233.55 583.34,233.66 583.64,232.99 583.93,233.71 584.22,233.9 584.52,232.44 584.81,234.1 585.1,235.46 585.39,234.59 585.69,236.07 585.98,234.42 586.27,235.35 586.56,235.56 586.86,234.34 587.15,233.77 587.44,234.86 587.73,236.26 588.03,234.63 588.32,235.75 588.61,233.97 588.9,234.15 589.2,233.22 589.49,234.33 589.78,233.95 590.08,233.85 590.37,232.9 590.66,234.5 590.95,233.69 591.25,234.56 591.54,234.63 591.83,234.69 592.12,233.93 592.42,235.5 592.71,235.71 593,235.46 593.29,235.56 593.59,234.27 593.88,234.22 594.17,235.21 594.46,236.19 594.76,234.32 595.05,235.08 595.34,234.99 595.64,235.17 595.93,234.25 596.22,234.69 596.51,234.36 596.81,235.69 597.1,235.19 597.39,233.71 597.68,233.79 597.98,232.37 598.27,233.49 598.56,233.3 598.85,235.29 599.15,235.18 599.44,235.27 599.73,233.83 600.03,234.37 600.32,234.99 600.61,233.93 600.9,232.36 601.2,230.9 601.49,232.79 601.78,233.54 602.07,234.13 602.37,234.5 602.66,235.04 602.95,235.46 603.24,234.71 603.54,233.71 603.83,234.27 604.12,231.92 604.41,234.75 604.71,232.76 605,233.69 605.29,234.7 605.59,234.08 605.88,235.59 606.17,234.08 606.46,234.74 606.76,234.14 607.05,235.88 607.34,235.79 607.63,235 607.93,234.47 608.22,235.9 608.51,234.61 608.8,235.45 609.1,234.01 609.39,233.37 609.68,231.37 609.97,232.74 610.27,232.16 610.56,232.45 610.85,233.76 611.15,234.28 611.44,234.94 611.73,236.55 612.02,234.99 612.32,236.13 612.61,235.54 612.9,236.46 613.19,235.02 613.49,234.73 613.78,236.53 614.07,234.19 614.36,236.64 614.66,235.58 614.95,235.1 615.24,236.76 615.53,234.19 615.83,235.27 616.12,233.59 616.41,234.33 616.71,232.28 617,232.56 617.29,233.1 617.58,233.18 617.88,232.96 618.17,234.67 618.46,235.59 618.75,235.23 619.05,235.49 619.34,234.5 619.63,235.03 619.92,234.24 620.22,235.46 620.51,234.23 620.8,233.48 621.09,234.08 621.39,232.87 621.68,232.77 621.97,232.96 622.27,233.11 622.56,234.63 622.85,233.95 623.14,234.86 623.44,235.52 623.73,236.8 624.02,234.5 624.31,236.03 624.61,235.57 624.9,236.32 625.19,234.62 625.48,234.46 625.78,235.32 626.07,236.39 626.36,234.76 626.65,236.32 626.95,235.01 627.24,234.74 627.53,233.97 627.83,234.49 628.12,233.57 628.41,233.25 628.7,230.83 629,230.91 629.29,231.19 629.58,232.51 629.87,234.94 630.17,234.92 630.46,235.01 630.75,235.78 631.04,236.99 631.34,236.57 631.63,236.21 631.92,236.78 632.22,234.36 632.51,234.29 632.8,235.09 633.09,234.3 633.39,235.32 633.68,233.61 633.97,233.52 634.26,234.64 634.56,233.9 634.85,235.64 635.14,234.46 635.43,234.84 635.73,235.17 636.02,235.84 636.31,234.98 636.6,236.22 636.9,234.79 637.19,234.67 637.48,236.76 637.78,235.05 638.07,235.42 638.36,235.82 638.65,235.49 638.95,233.89 639.24,235.51 639.53,235.15 639.82,234.38 640.12,232.91 640.41,233.91 640.7,233.97 640.99,235.12 641.29,236.67 641.58,235.14 641.87,236.23 642.16,235.35 642.46,236.58 642.75,235.38 643.04,236.91 643.34,236.54 643.63,236.57 643.92,235.78 644.21,235.09 644.51,234.63 644.8,235.38 645.09,234.56 645.38,236.21 645.68,235.87 645.97,234.73 646.26,234.97 646.55,233.64 646.85,231.84 647.14,232.09 647.43,232.7 647.72,233.79 648.02,233.71 648.31,235.72 648.6,235.76 648.9,236.19 649.19,235.74 649.48,236.89 649.77,235.83 650.07,234.65 650.36,236.97 650.65,236.39 650.94,236.84 651.24,237.18 651.53,234.68 651.82,234.97 652.11,234.05 652.41,234.22 652.7,234.43 652.99,231.55 653.28,232.47 653.58,232.11 653.87,234.85 654.16,235.97 654.46,234.44 654.75,235.96 655.04,235.43 655.33,237.4 655.63,237.41 655.92,236.54 656.21,237.53 656.5,235.86 656.8,237.37 657.09,236.14 657.38,235.62 657.67,237.54 657.97,236.86 658.26,235.18 658.55,237.3 658.84,236.73 659.14,236.27 659.43,236.39 659.72,234.91 660.02,235.79 660.31,236.48 660.6,234.67 660.89,235.14 661.19,237.29 661.48,236.84 661.77,236.69 662.06,235.97 662.36,236.13 662.65,237.71 662.94,236.52 663.23,235.57 663.53,237.84 663.82,235.99 664.11,237.69 664.4,237.86 664.7,236.81 664.99,237.12 665.28,236.9 665.58,237.09 665.87,237.55 666.16,235.75 666.45,237.08 666.75,236 667.04,234.72 667.33,235.17 667.62,236.47 667.92,235.84 668.21,235.82 668.5,236.08 668.79,238.02 669.09,237.42 669.38,238.43 669.67,236.78 669.97,237.48 670.26,237.51 670.55,237.58 670.84,236.09 671.14,237.98 671.43,238.54 671.72,237.44 672.01,236.54 672.31,238.07 672.6,236.07 672.89,236.95 673.18,238.53 673.48,237.58 673.77,238.17 674.06,237.25 674.35,237.54 674.65,237.41 674.94,235.77 675.23,235.32 675.53,237.21 675.82,236.8 676.11,236.27 676.4,237.74 676.7,236.37 676.99,236.88 677.28,238.51 677.57,236.44 677.87,237.25 678.16,236.51 678.45,239.16 678.74,238.06 679.04,237.3 679.33,239.04 679.62,237.92 679.91,237.8 680.21,238.18 680.5,237.33" fill="none" stroke="#505050" stroke-width="2.0" stroke-linejoin="round"/>
<path d="M358.6,132.59 358.89,133.01 359.19,132.39 359.48,133.67 359.77,133.34 360.06,133.5 360.36,133.28 360.65,134.48 360.94,134 361.23,132.97 361.53,134.52 361.82,135.33 362.11,134.17 362.4,135.32 362.7,133.94 362.99,134.64 363.28,134.37 363.57,134.49 363.87,135.5 364.16,134.95 364.45,136.18 364.75,135.17 365.04,134.02 365.33,134.89 365.62,136.3 365.92,135.2 366.21,134.28 366.5,134.98 366.79,134.59 367.09,137.19 367.38,137.23 367.67,136.86 367.96,136.41 368.26,136.92 368.55,135.35 368.84,135.68 369.13,136.24 369.43,135.62 369.72,134.49 370.01,136.58 370.31,134.51 370.6,133.9 370.89,132.5 371.18,131.34 371.48,130.71 371.77,131.07 372.06,130.21 372.35,128.97 372.65,128.08 372.94,130.68 373.23,130.06 373.52,131.95 373.82,131.62 374.11,134.53 374.4,134.91 374.7,136.18 374.99,136.78 375.28,137.25 375.57,138.28 375.87,139.79 376.16,137.74 376.45,138.48 376.74,137.91 377.04,139.93 377.33,139.83 377.62,138.74 377.91,139.39 378.21,140.11 378.5,140.26 378.79,139.04 379.08,141.06 379.38,140.86 379.67,139.21 379.96,141.28 380.26,141.04 380.55,141.26 380.84,140.64 381.13,139.84 381.43,141.75 381.72,140.83 382.01,140.04 382.3,139.63 382.6,141.2 382.89,139.79 383.18,140.23 383.47,140.69 383.77,141.65 384.06,141.45 384.35,140.51 384.64,141.82 384.94,141.68 385.23,141.94 385.52,142.44 385.82,141.3 386.11,141.23 386.4,141.11 386.69,141.63 386.99,141.01 387.28,142.76 387.57,141.95 387.86,141.74 388.16,141.58 388.45,142.17 388.74,142.07 389.03,142.35 389.33,142.93 389.62,143.23 389.91,144.11 390.2,144.59 390.5,142.14 390.79,142.72 391.08,143.91 391.38,142.69 391.67,144.68 391.96,143 392.25,144.49 392.55,144.33 392.84,144.81 393.13,142.82 393.42,143.43 393.72,144.79 394.01,143.2 394.3,143.1 394.59,144.01 394.89,144.63 395.18,143.12 395.47,143.08 395.76,142.98 396.06,143.98 396.35,144.87 396.64,143.82 396.94,145.88 397.23,144.88 397.52,145.54 397.81,144.77 398.11,145.74 398.4,146.74 398.69,145.46 398.98,144.89 399.28,145.56 399.57,145.69 399.86,145.94 400.15,146.07 400.45,144.84 400.74,145.25 401.03,146.1 401.32,146.88 401.62,147.15 401.91,147.22 402.2,146.54 402.5,147.8 402.79,146.15 403.08,146.6 403.37,147.36 403.67,147.69 403.96,146.53 404.25,147.72 404.54,146.57 404.84,146.94 405.13,143.92 405.42,141.69 405.71,140.96 406.01,136.01 406.3,137.12 406.59,138.28 406.88,141.38 407.18,144.63 407.47,147.6 407.76,147.27 408.06,148.41 408.35,147.91 408.64,147.41 408.93,147.46 409.23,146.73 409.52,146.19 409.81,147.33 410.1,147.74 410.4,148.57 410.69,147.95 410.98,148.22 411.27,148.19 411.57,147.97 411.86,147.47 412.15,145.67 412.45,146.49 412.74,146.46 413.03,148.57 413.32,148.62 413.62,147.59 413.91,148.28 414.2,148.98 414.49,149.1 414.79,147.45 415.08,148.91 415.37,149.13 415.66,147.1 415.96,147.29 416.25,148.2 416.54,147.64 416.83,149.44 417.13,149.03 417.42,149.03 417.71,149.21 418.01,148.03 418.3,147.7 418.59,148.58 418.88,147.59 419.18,148.47 419.47,147.39 419.76,146.92 420.05,148.74 420.35,147.97 420.64,147.7 420.93,149.44 421.22,148.65 421.52,148.1 421.81,149.29 422.1,150.09 422.39,148.13 422.69,149.62 422.98,149.56 423.27,147.85 423.57,149.81 423.86,148.76 424.15,147.62 424.44,147.76 424.74,144.61 425.03,140.15 425.32,136.14 425.61,136.02 425.91,139.91 426.2,144.82 426.49,146.29 426.78,149.27 427.08,147.99 427.37,148.28 427.66,149.76 427.95,150.23 428.25,150.47 428.54,149.5 428.83,148.86 429.13,147.53 429.42,148.47 429.71,147.17 430,147.97 430.3,148.37 430.59,149.3 430.88,148.3 431.17,150.41 431.47,150.64 431.76,150.3 432.05,150 432.34,150.13 432.64,150.51 432.93,150.72 433.22,150.45 433.51,149.88 433.81,148.35 434.1,149.83 434.39,149.1 434.69,148.59 434.98,150.56 435.27,150.38 435.56,149.57 435.86,149.4 436.15,149.47 436.44,148.85 436.73,149.24 437.03,149.33 437.32,148.19 437.61,150.56 437.9,148.23 438.2,149.14 438.49,148.32 438.78,148.29 439.08,149.44 439.37,146.34 439.66,145.67 439.95,143.52 440.25,144.91 440.54,148.34 440.83,149.73 441.12,148.69 441.42,150.71 441.71,149.95 442,149.51 442.29,149.16 442.59,149 442.88,150.42 443.17,149.08 443.46,147.47 443.76,144.9 444.05,145.04 444.34,147.7 444.64,147.98 444.93,148.45 445.22,147.99 445.51,148.8 445.81,148.82 446.1,148.58 446.39,148.98 446.68,148.46 446.98,147.84 447.27,147.6 447.56,148.34 447.85,146.96 448.15,149.3 448.44,147.55 448.73,148.59 449.02,148.79 449.32,148.7 449.61,148.92 449.9,148.69 450.2,148.9 450.49,148.46 450.78,150.01 451.07,149.89 451.37,148.99 451.66,150.48 451.95,149.1 452.24,149.65 452.54,149.36 452.83,148.77 453.12,150.33 453.41,150.01 453.71,149.83 454,149.9 454.29,147.03 454.58,148.06 454.88,149.06 455.17,146.85 455.46,147.27 455.76,148.18 456.05,148.84 456.34,148.02 456.63,148 456.93,149.26 457.22,147.22 457.51,149.21 457.8,148.19 458.1,148.69 458.39,148.84 458.68,147.12 458.97,149.13 459.27,148.45 459.56,146.02 459.85,142.93 460.14,138.3 460.44,133.9 460.73,131.26 461.02,131.17 461.32,133.05 461.61,137.67 461.9,142.36 462.19,146.85 462.49,145.81 462.78,146.43 463.07,147.96 463.36,146.44 463.66,146.74 463.95,148.14 464.24,146.73 464.53,147.48 464.83,147.37 465.12,146.48 465.41,146.39 465.7,146.44 466,148.01 466.29,145.69 466.58,145.82 466.88,146.35 467.17,145.8 467.46,146.47 467.75,146.21 468.05,146.05 468.34,145.67 468.63,146.52 468.92,147.57 469.22,147.9 469.51,147.31 469.8,148.14 470.09,146.11 470.39,146.47 470.68,148.11 470.97,147.15 471.26,147 471.56,147.71 471.85,147.2 472.14,148.67 472.44,147.29 472.73,148.53 473.02,147.85 473.31,147.82 473.61,140.62 473.9,121.3 474.19,89.37 474.48,79.66 474.78,107.38 475.07,135.21 475.36,144.35 475.65,148.9 475.95,148.05 476.24,148.52 476.53,147.03 476.83,148.78 477.12,147.66 477.41,147.01 477.7,147.81 478,146.6 478.29,146.7 478.58,145.75 478.87,147.54 479.17,148.45 479.46,147.68 479.75,148.66 480.04,148.43 480.34,147.5 480.63,148.4 480.92,148.18 481.21,147.79 481.51,148.64 481.8,146.99 482.09,147.81 482.39,147.95 482.68,149.38 482.97,148.61 483.26,148.39 483.56,147.1 483.85,147.83 484.14,147.63 484.43,149.15 484.73,147.8 485.02,148.83 485.31,148.16 485.6,148.41 485.9,145.15 486.19,145.79 486.48,142.82 486.77,136.77 487.07,132.97 487.36,131.94 487.65,133.63 487.95,136.61 488.24,140.27 488.53,144.86 488.82,146.05 489.12,148.1 489.41,147.55 489.7,146.62 489.99,148.79 490.29,148.82 490.58,147.3 490.87,148.1 491.16,147.64 491.46,146.1 491.75,146.43 492.04,145.3 492.33,143.36 492.63,141.62 492.92,141.15 493.21,142.2 493.51,143.99 493.8,143.83 494.09,147.23 494.38,146.52 494.68,147.25 494.97,146.19 495.26,144.88 495.55,146.11 495.85,145.01 496.14,145.51 496.43,145.01 496.72,145.27 497.02,145.94 497.31,147.73 497.6,148.14 497.89,148.39 498.19,146.92 498.48,147.92 498.77,146.31 499.07,147.89 499.36,147.05 499.65,148.2 499.94,146.47 500.24,148.11 500.53,145.73 500.82,146.35 501.11,141.27 501.41,133.79 501.7,127.79 501.99,127.62 502.28,131.97 502.58,138.6 502.87,143.71 503.16,147.08 503.46,147.18 503.75,144.57 504.04,144.23 504.33,138.82 504.63,135.3 504.92,132.5 505.21,134.52 505.5,138.61 505.8,142.77 506.09,144.67 506.38,145.55 506.67,147.37 506.97,147.17 507.26,147.32 507.55,147.18 507.84,149.12 508.14,147.64 508.43,146.6 508.72,147.95 509.02,148.53 509.31,148.87 509.6,148.75 509.89,148.65 510.19,147.34 510.48,147.79 510.77,148.12 511.06,147.26 511.36,148.01 511.65,146.99 511.94,146.66 512.23,148.26 512.53,146 512.82,146.52 513.11,146.93 513.4,148.11 513.7,146.93 513.99,147.13 514.28,149.41 514.58,148.09 514.87,148.07 515.16,147.61 515.45,148.1 515.75,147.06 516.04,146.91 516.33,146.52 516.62,147.33 516.92,147.21 517.21,148.41 517.5,147.96 517.79,148.45 518.09,150.55 518.38,148.65 518.67,150.16 518.96,150.05 519.26,149.98 519.55,148.62 519.84,148.37 520.14,150.42 520.43,148.65 520.72,148.99 521.01,150.68 521.31,149.94 521.6,148.84 521.89,147 522.18,146.28 522.48,146.72 522.77,147.41 523.06,150.23 523.35,150.67 523.65,151.63 523.94,150.01 524.23,150.88 524.52,151.23 524.82,150.48 525.11,151.04 525.4,149.94 525.7,150.06 525.99,149.19 526.28,150.02 526.57,148.63 526.87,148.56 527.16,148.52 527.45,148.11 527.74,151.08 528.04,151.29 528.33,150.7 528.62,152.56 528.91,152.14 529.21,153.1 529.5,151.75 529.79,150.86 530.08,150.93 530.38,152.62 530.67,152.1 530.96,150.94 531.26,151.57 531.55,151.24 531.84,151.96 532.13,149.84 532.43,150.28 532.72,151.53 533.01,151.08 533.3,153.64 533.6,151.68 533.89,152.9 534.18,152.48 534.47,153.42 534.77,151.47 535.06,152.2 535.35,152.56 535.64,151.48 535.94,152.68 536.23,152.07 536.52,152.51 536.82,151.23 537.11,150.82 537.4,151.11 537.69,151.28 537.99,153.55 538.28,153.49 538.57,152.45 538.86,152.83 539.16,151.95 539.45,153.3 539.74,153.7 540.03,152.37 540.33,152.97 540.62,153.62 540.91,153.02 541.21,153.34 541.5,152.4 541.79,154.03 542.08,152.13 542.38,152.86 542.67,151.57 542.96,149.3 543.25,148.62 543.55,144.28 543.84,144.14 544.13,146.02 544.42,147.91 544.72,151.04 545.01,152.7 545.3,153.13 545.59,153.12 545.89,152.89 546.18,154.64 546.47,153.52 546.77,153.9 547.06,153.21 547.35,152.23 547.64,152.47 547.94,153.27 548.23,153.5 548.52,153.95 548.81,152.35 549.11,153.02 549.4,152.64 549.69,155.12 549.98,154.22 550.28,154.46 550.57,153.75 550.86,153.26 551.15,153.63 551.45,153.27 551.74,153.72 552.03,154.14 552.33,153.74 552.62,151.84 552.91,151.3 553.2,152.84 553.5,152.34 553.79,152.16 554.08,153.72 554.37,152.69 554.67,152.8 554.96,152.65 555.25,153.2 555.54,153.94 555.84,153.09 556.13,152.84 556.42,153.98 556.71,155.09 557.01,152.68 557.3,153.27 557.59,155.08 557.89,154.35 558.18,154.82 558.47,154.83 558.76,152.46 559.06,152.86 559.35,150.07 559.64,150.36 559.93,149.57 560.23,147.75 560.52,150.83 560.81,150.36 561.1,153.1 561.4,153.5 561.69,154.13 561.98,154.67 562.27,154.99 562.57,154.01 562.86,152.85 563.15,155.12 563.45,152.81 563.74,154.78 564.03,152.93 564.32,154.96 564.62,154.04 564.91,152.8 565.2,153.78 565.49,151.36 565.79,151.03 566.08,151.23 566.37,151.78 566.66,151.81 566.96,154.29 567.25,153.45 567.54,155.12 567.84,153.39 568.13,154.05 568.42,154.99 568.71,155.52 569.01,154.09 569.3,154.17 569.59,155.46 569.88,154.12 570.18,154.16 570.47,155.57 570.76,154.36 571.05,153.37 571.35,155.52 571.64,154.06 571.93,152.88 572.22,152.7 572.52,148.02 572.81,148.62 573.1,146.02 573.4,147.56 573.69,152.27 573.98,152.96 574.27,153.23 574.57,155.83 574.86,154.23 575.15,155.91 575.44,154.64 575.74,154.42 576.03,154.99 576.32,155.93 576.61,156.14 576.91,155.4 577.2,154.54 577.49,155.9 577.78,156.08 578.08,155.08 578.37,155.56 578.66,156.01 578.96,155.53 579.25,155.46 579.54,154.76 579.83,155.38 580.13,154.44 580.42,154.13 580.71,154.52 581,155.05 581.3,154.78 581.59,155.74 581.88,154.87 582.17,155.15 582.47,154.45 582.76,153.65 583.05,154.93 583.34,153.06 583.64,153.21 583.93,153.3 584.22,153.61 584.52,153.33 584.81,153.51 585.1,155.65 585.39,155.32 585.69,154.43 585.98,155.92 586.27,155.33 586.56,155.02 586.86,154.16 587.15,154.49 587.44,154.18 587.73,155.77 588.03,155.86 588.32,154.9 588.61,153.61 588.9,153.43 589.2,154.81 589.49,153.87 589.78,151.95 590.08,151.12 590.37,152.34 590.66,153.05 590.95,152.71 591.25,155.21 591.54,155.42 591.83,155.41 592.12,156.08 592.42,156.14 592.71,154.51 593,154.12 593.29,154.9 593.59,156.21 593.88,155.74 594.17,153.95 594.46,154.58 594.76,153.21 595.05,151.42 595.34,151.84 595.64,150.42 595.93,150.95 596.22,151.4 596.51,153.27 596.81,153.63 597.1,154.39 597.39,152.63 597.68,153.49 597.98,152.39 598.27,153.25 598.56,153.01 598.85,154.67 599.15,156.04 599.44,156.09 599.73,155.24 600.03,154.89 600.32,153.99 600.61,155.73 600.9,154.87 601.2,155.05 601.49,155.68 601.78,154.49 602.07,155.48 602.37,155.1 602.66,154.74 602.95,155.69 603.24,154.98 603.54,152.99 603.83,154.73 604.12,152.25 604.41,153.16 604.71,153.31 605,154.3 605.29,154.1 605.59,154.65 605.88,155.07 606.17,155.3 606.46,154.76 606.76,154.22 607.05,155.5 607.34,155.75 607.63,155.81 607.93,154.11 608.22,154.28 608.51,155.7 608.8,153.99 609.1,153.61 609.39,154.29 609.68,153.74 609.97,154.43 610.27,152.82 610.56,153.62 610.85,154.14 611.15,154.55 611.44,153.9 611.73,155.47 612.02,154.06 612.32,154.86 612.61,156.51 612.9,154.48 613.19,155.77 613.49,155.28 613.78,156.55 614.07,155.24 614.36,154.59 614.66,156.71 614.95,155.89 615.24,154.05 615.53,154.58 615.83,153.08 616.12,153.54 616.41,150.76 616.71,151.94 617,153.46 617.29,154.41 617.58,155.37 617.88,155.37 618.17,154.71 618.46,154.21 618.75,154.5 619.05,156.45 619.34,155.92 619.63,154.21 619.92,156.35 620.22,154.7 620.51,153.17 620.8,153.25 621.09,152.39 621.39,151.61 621.68,152.97 621.97,153.31 622.27,153.39 622.56,155.45 622.85,155.15 623.14,154.83 623.44,154.43 623.73,155.39 624.02,154.46 624.31,156.52 624.61,155.39 624.9,156.51 625.19,154.91 625.48,155.28 625.78,155.38 626.07,156.2 626.36,153.6 626.65,153.31 626.95,150.94 627.24,151.62 627.53,150.49 627.83,149.7 628.12,151.77 628.41,153.05 628.7,154.51 629,155.89 629.29,156.57 629.58,154.23 629.87,155.58 630.17,156.49 630.46,155.12 630.75,154.74 631.04,154.4 631.34,155.74 631.63,154.62 631.92,155.05 632.22,155.08 632.51,155.6 632.8,156.32 633.09,156.13 633.39,153.94 633.68,153.55 633.97,154.64 634.26,154.65 634.56,153.79 634.85,155.95 635.14,155.86 635.43,154.42 635.73,155.33 636.02,154.28 636.31,155.46 636.6,155.59 636.9,154.54 637.19,154.25 637.48,154.53 637.78,155.36 638.07,154.17 638.36,154.44 638.65,154.38 638.95,154.8 639.24,154.8 639.53,154.03 639.82,154.57 640.12,155.32 640.41,153.61 640.7,155.96 640.99,154.49 641.29,155.43 641.58,154.92 641.87,155.85 642.16,156.34 642.46,156.19 642.75,155.73 643.04,155.58 643.34,154.46 643.63,156.25 643.92,156.71 644.21,155.76 644.51,155.62 644.8,154.43 645.09,154.74 645.38,154.86 645.68,154.17 645.97,155.92 646.26,155.18 646.55,153.12 646.85,152.13 647.14,152.79 647.43,152.53 647.72,154.12 648.02,153.71 648.31,153.77 648.6,155.54 648.9,155.02 649.19,155.88 649.48,155.46 649.77,155.74 650.07,154.91 650.36,155.62 650.65,155.39 650.94,155.65 651.24,154.07 651.53,156.66 651.82,154.68 652.11,154.26 652.41,154.84 652.7,155.89 652.99,156.18 653.28,153.93 653.58,146.96 653.87,142 654.16,140.38 654.46,147.11 654.75,152.54 655.04,155.87 655.33,155.98 655.63,154.4 655.92,155.96 656.21,156.11 656.5,154.57 656.8,155.86 657.09,155.14 657.38,154.25 657.67,155.44 657.97,155.36 658.26,156.38 658.55,155.42 658.84,156.02 659.14,154.73 659.43,155.14 659.72,155.59 660.02,152.94 660.31,154.21 660.6,154.4 660.89,155.64 661.19,153.82 661.48,155.49 661.77,154.76 662.06,155.32 662.36,156 662.65,155.78 662.94,154.75 663.23,154.66 663.53,156.41 663.82,155.5 664.11,156.78 664.4,155.94 664.7,154.77 664.99,154.61 665.28,155 665.58,156.09 665.87,155.08 666.16,155.09 666.45,154.83 666.75,153.44 667.04,153.82 667.33,153.84 667.62,155.89 667.92,153.74 668.21,156.58 668.5,154.57 668.79,155.75 669.09,155.04 669.38,155.18 669.67,156.43 669.97,156.25 670.26,156.46 670.55,154.92 670.84,154.97 671.14,156.48 671.43,154.77 671.72,156.91 672.01,156.97 672.31,155.85 672.6,156.39 672.89,155.4 673.18,156.19 673.48,154.47 673.77,154.84 674.06,155.21 674.35,154.98 674.65,156.01 674.94,155.9 675.23,153.62 675.53,154.31 675.82,154.15 676.11,155.17 676.4,157.03 676.7,156.13 676.99,154.76 677.28,156.09 677.57,157.22 677.87,157.34 678.16,157.19 678.45,156.79 678.74,155.43 679.04,157.2 679.33,155.58 679.62,157.16 679.91,154.92 680.21,154.97 680.5,157" fill="none" stroke="#f3474a" stroke-width="2.0" stroke-linejoin="round"/>
<path d="M358.6,53.18 358.89,53.38 359.19,52.66 359.48,53.38 359.77,53.32 360.06,52.16 360.36,51.48 360.65,53.1 360.94,52.94 361.23,52.5 361.53,52.23 361.82,52.82 362.11,53.09 362.4,52.65 362.7,52.8 362.99,53.35 363.28,54.53 363.57,53.89 363.87,53.17 364.16,53.25 364.45,53.83 364.75,53.24 365.04,53.31 365.33,54.23 365.62,53.16 365.92,54.3 366.21,54.05 366.5,55.06 366.79,55.24 367.09,55.17 367.38,55.24 367.67,54.46 367.96,55.32 368.26,54.5 368.55,55.17 368.84,54.53 369.13,54.83 369.43,53.74 369.72,54.09 370.01,55.85 370.31,53.55 370.6,54.4 370.89,53.83 371.18,53.53 371.48,52.36 371.77,52.27 372.06,50.54 372.35,50.43 372.65,50.85 372.94,51 373.23,51.31 373.52,51.97 373.82,53.76 374.11,53.43 374.4,56.11 374.7,55.93 374.99,56 375.28,56.82 375.57,55.9 375.87,57.91 376.16,57.84 376.45,57.67 376.74,57.12 377.04,58.19 377.33,58.01 377.62,57.87 377.91,58.63 378.21,57.95 378.5,57.31 378.79,57.89 379.08,57.01 379.38,57.08 379.67,58.61 379.96,58.86 380.26,59.45 380.55,59.21 380.84,58.46 381.13,57.3 381.43,58.4 381.72,59.54 382.01,59.02 382.3,57.99 382.6,57.7 382.89,56.97 383.18,56.98 383.47,57 383.77,59.6 384.06,59.3 384.35,58.25 384.64,59.18 384.94,58.34 385.23,58.88 385.52,60.38 385.82,60.25 386.11,59.88 386.4,59.41 386.69,60.52 386.99,61.43 387.28,60.11 387.57,59.21 387.86,59.26 388.16,59.42 388.45,61.88 388.74,60.83 389.03,61.72 389.33,60.01 389.62,60.34 389.91,61.59 390.2,62.23 390.5,60.82 390.79,60.16 391.08,62.4 391.38,60.93 391.67,62.22 391.96,60.72 392.25,62.25 392.55,62.72 392.84,62.49 393.13,61.57 393.42,62.64 393.72,61.12 394.01,61.65 394.3,61.97 394.59,63.19 394.89,61.14 395.18,62.92 395.47,62.48 395.76,62.8 396.06,61.19 396.35,60.96 396.64,61.39 396.94,63.34 397.23,64.01 397.52,63.51 397.81,63.07 398.11,62.65 398.4,64.21 398.69,64.39 398.98,62.36 399.28,62.77 399.57,64.51 399.86,64.63 400.15,63.26 400.45,63.24 400.74,63.73 401.03,64.1 401.32,62.98 401.62,65.05 401.91,64.31 402.2,65.04 402.5,63.64 402.79,65.7 403.08,65.19 403.37,64.13 403.67,65.81 403.96,65.18 404.25,65.59 404.54,63.42 404.84,63.24 405.13,64.42 405.42,61.81 405.71,60.38 406.01,57.73 406.3,59.71 406.59,59.83 406.88,62.83 407.18,62.54 407.47,64.61 407.76,63.9 408.06,66.27 408.35,65.15 408.64,64.18 408.93,64.25 409.23,65.54 409.52,64.33 409.81,64.66 410.1,65.37 410.4,65.53 410.69,65.71 410.98,65.68 411.27,64.81 411.57,65.28 411.86,63.92 412.15,64.29 412.45,65.91 412.74,64.45 413.03,64.92 413.32,65.19 413.62,65.97 413.91,64.76 414.2,64.9 414.49,66.12 414.79,65.36 415.08,66.79 415.37,67.14 415.66,66.59 415.96,66.94 416.25,66.16 416.54,65.26 416.83,66.36 417.13,66.22 417.42,66.86 417.71,65.64 418.01,65.91 418.3,67.46 418.59,65.76 418.88,65.68 419.18,66.49 419.47,64.39 419.76,64.31 420.05,66.47 420.35,66.71 420.64,67.16 420.93,65.76 421.22,66.84 421.52,65.76 421.81,66.45 422.1,67.73 422.39,66.03 422.69,66.69 422.98,68.6 423.27,68.59 423.57,67.3 423.86,67.98 424.15,67.54 424.44,66.34 424.74,65.41 425.03,60.29 425.32,59.09 425.61,56.64 425.91,61.49 426.2,64.45 426.49,66.21 426.78,67.86 427.08,67.62 427.37,68.57 427.66,66.81 427.95,67.9 428.25,68.87 428.54,68.95 428.83,66.87 429.13,66.68 429.42,68.09 429.71,66.3 430,65.44 430.3,67.38 430.59,66.93 430.88,68.2 431.17,67.86 431.47,68.16 431.76,68.08 432.05,67.81 432.34,69.51 432.64,68.93 432.93,69.29 433.22,69.61 433.51,67.9 433.81,69.75 434.1,69.63 434.39,68.7 434.69,68.89 434.98,67.68 435.27,69.44 435.56,67.87 435.86,68.86 436.15,67.77 436.44,67.64 436.73,69.1 437.03,68.8 437.32,69.31 437.61,69.63 437.9,70.16 438.2,67.74 438.49,69.16 438.78,68.72 439.08,68.08 439.37,66.26 439.66,64.69 439.95,65.03 440.25,64.95 440.54,66.91 440.83,68.66 441.12,67.67 441.42,68.8 441.71,67.96 442,68.07 442.29,67.7 442.59,68.13 442.88,67.56 443.17,66.71 443.46,63.81 443.76,61.28 444.05,59.32 444.34,62.46 444.64,64.56 444.93,68.14 445.22,68.87 445.51,69.46 445.81,68.59 446.1,70.38 446.39,69.85 446.68,67.98 446.98,68.72 447.27,69.5 447.56,66.48 447.85,66.87 448.15,68.07 448.44,66.5 448.73,68.9 449.02,68.91 449.32,69.69 449.61,69.41 449.9,70.57 450.2,69.01 450.49,69.65 450.78,68.26 451.07,69.63 451.37,69.28 451.66,70.77 451.95,70.63 452.24,68.41 452.54,68.1 452.83,68.26 453.12,68.39 453.41,69.71 453.71,69.01 454,68.66 454.29,68.05 454.58,66.4 454.88,67.17 455.17,68.79 455.46,68.53 455.76,68.21 456.05,67.52 456.34,69.7 456.63,68.46 456.93,69.02 457.22,67.88 457.51,68.18 457.8,68.19 458.1,68.29 458.39,67.23 458.68,68.9 458.97,67.43 459.27,68.19 459.56,67.16 459.85,65.05 460.14,60.16 460.44,55.66 460.73,53.6 461.02,52.29 461.32,54.5 461.61,60.9 461.9,62.41 462.19,67.24 462.49,66.8 462.78,67.44 463.07,69.14 463.36,67.66 463.66,68.38 463.95,67.52 464.24,68.83 464.53,68.27 464.83,67.58 465.12,66.47 465.41,67.18 465.7,67.48 466,66.88 466.29,67.5 466.58,66.52 466.88,67.11 467.17,66.94 467.46,67.05 467.75,67.01 468.05,66.89 468.34,66.15 468.63,66.45 468.92,67.81 469.22,66.61 469.51,67.73 469.8,68.46 470.09,68.28 470.39,67.25 470.68,66.57 470.97,67.4 471.26,67.55 471.56,67.1 471.85,66.57 472.14,66.85 472.44,65.82 472.73,66.36 473.02,65.9 473.31,66.68 473.61,63.35 473.9,47.23 474.19,25.98 474.48,22.31 474.78,38.64 475.07,57.57 475.36,63.89 475.65,65.65 475.95,67.16 476.24,66.87 476.53,67.44 476.83,67.56 477.12,65.67 477.41,66.06 477.7,65.32 478,65.36 478.29,65.12 478.58,66.92 478.87,66.22 479.17,65.14 479.46,66.77 479.75,67.55 480.04,67.37 480.34,66.45 480.63,64.98 480.92,67.11 481.21,67.45 481.51,66.91 481.8,66.08 482.09,65.95 482.39,66.92 482.68,65.2 482.97,67.02 483.26,66.24 483.56,65.08 483.85,67.11 484.14,65.93 484.43,65.13 484.73,65.21 485.02,66.81 485.31,64.38 485.6,64.94 485.9,63.28 486.19,59.2 486.48,58.09 486.77,57.81 487.07,57.1 487.36,59.49 487.65,60.28 487.95,63.05 488.24,63.54 488.53,66.22 488.82,66.65 489.12,65.92 489.41,64.82 489.7,63.92 489.99,63.21 490.29,60.62 490.58,61.03 490.87,60.91 491.16,62.29 491.46,63.63 491.75,65.98 492.04,64.45 492.33,64.03 492.63,62.56 492.92,60.95 493.21,61.9 493.51,64.07 493.8,65.62 494.09,65.43 494.38,65.6 494.68,66.8 494.97,65.68 495.26,65.43 495.55,65.38 495.85,63.63 496.14,65.67 496.43,63.89 496.72,65.34 497.02,66.7 497.31,65.92 497.6,65.51 497.89,66.62 498.19,67.12 498.48,66.37 498.77,64.87 499.07,67.11 499.36,64.8 499.65,66.59 499.94,67.19 500.24,65.11 500.53,65.62 500.82,64.12 501.11,57.43 501.41,48.67 501.7,39.59 501.99,38.12 502.28,44.59 502.58,54.24 502.87,61.26 503.16,62.1 503.46,60.2 503.75,57.07 504.04,55.84 504.33,54.83 504.63,58.58 504.92,60.31 505.21,64.05 505.5,66.41 505.8,66.02 506.09,65.76 506.38,65.77 506.67,66.11 506.97,67.53 507.26,67.71 507.55,67.11 507.84,67.76 508.14,67.15 508.43,65.82 508.72,66.06 509.02,66.47 509.31,65.89 509.6,65.1 509.89,64.04 510.19,63.1 510.48,65.89 510.77,64.81 511.06,67.7 511.36,65.92 511.65,68.37 511.94,66.56 512.23,67.33 512.53,64.7 512.82,65.6 513.11,65.14 513.4,66.8 513.7,67.39 513.99,67.54 514.28,68.75 514.58,69.83 514.87,67.63 515.16,68.95 515.45,69.18 515.75,68.9 516.04,67.71 516.33,69.27 516.62,67.59 516.92,69.41 517.21,68.71 517.5,68.14 517.79,70.22 518.09,68.35 518.38,70.36 518.67,69.87 518.96,70.64 519.26,70.45 519.55,69.38 519.84,68.67 520.14,69.03 520.43,68.27 520.72,69.88 521.01,67.93 521.31,67.39 521.6,66.45 521.89,65.82 522.18,66.11 522.48,65.86 522.77,67.07 523.06,67.13 523.35,68.65 523.65,68.78 523.94,70.42 524.23,68.55 524.52,70.19 524.82,70.41 525.11,69.86 525.4,68.52 525.7,68.84 525.99,68.4 526.28,67.92 526.57,67.34 526.87,68.9 527.16,68.47 527.45,69.2 527.74,69.38 528.04,69.02 528.33,71.1 528.62,70.17 528.91,69.54 529.21,71.11 529.5,69.92 529.79,71.5 530.08,71.31 530.38,70.06 530.67,70.37 530.96,70.75 531.26,70.17 531.55,69.31 531.84,68.17 532.13,68.52 532.43,69.92 532.72,69.89 533.01,71.19 533.3,71.56 533.6,70.97 533.89,70.45 534.18,72.13 534.47,71.33 534.77,71.96 535.06,70.83 535.35,70.9 535.64,71.61 535.94,72.14 536.23,70.43 536.52,71.97 536.82,72.03 537.11,71.59 537.4,72.03 537.69,71.01 537.99,70.98 538.28,71.85 538.57,71.46 538.86,72.34 539.16,73.32 539.45,72.06 539.74,73.64 540.03,72.58 540.33,71.82 540.62,73.15 540.91,72.62 541.21,72.36 541.5,72.88 541.79,74.18 542.08,73.49 542.38,71.98 542.67,72.81 542.96,68.85 543.25,66.47 543.55,63.53 543.84,64.24 544.13,63.24 544.42,68.08 544.72,70.53 545.01,71.27 545.3,73.3 545.59,73.99 545.89,73.94 546.18,72.06 546.47,73.91 546.77,72.48 547.06,73.48 547.35,72.22 547.64,70.47 547.94,72.05 548.23,71.69 548.52,71.8 548.81,72.83 549.11,72.77 549.4,71.99 549.69,74.53 549.98,72.93 550.28,72.94 550.57,72.33 550.86,74.14 551.15,74.63 551.45,73.34 551.74,74.12 552.03,72.52 552.33,72.28 552.62,71.67 552.91,71.47 553.2,72.26 553.5,71.92 553.79,71.62 554.08,73.68 554.37,72.91 554.67,73.29 554.96,72.8 555.25,72.47 555.54,74.11 555.84,73.5 556.13,74.88 556.42,72.43 556.71,74.61 557.01,72.44 557.3,72.87 557.59,72.44 557.89,73.78 558.18,73.32 558.47,73.06 558.76,74.41 559.06,72.5 559.35,72.18 559.64,70.78 559.93,68.59 560.23,69.73 560.52,69.62 560.81,71.44 561.1,73.37 561.4,73.67 561.69,72.64 561.98,72.72 562.27,74.62 562.57,74.44 562.86,74.31 563.15,73.16 563.45,74.69 563.74,74.14 564.03,72.97 564.32,72.99 564.62,74.13 564.91,74.93 565.2,73.63 565.49,72.57 565.79,73.51 566.08,72.09 566.37,73.41 566.66,73.06 566.96,72.3 567.25,73.82 567.54,73.92 567.84,75.08 568.13,74.56 568.42,73.47 568.71,74.39 569.01,73.32 569.3,74.42 569.59,74.27 569.88,74.31 570.18,73.08 570.47,74.55 570.76,74.01 571.05,74.2 571.35,71.29 571.64,71.2 571.93,69.6 572.22,67.74 572.52,67.73 572.81,72.09 573.1,72.91 573.4,73.04 573.69,74.26 573.98,74.95 574.27,72.81 574.57,73.35 574.86,71.15 575.15,67.07 575.44,59.82 575.74,60.88 576.03,66.16 576.32,70.97 576.61,74.08 576.91,74.27 577.2,74.34 577.49,74.3 577.78,73.09 578.08,74.96 578.37,74.04 578.66,72.71 578.96,74.87 579.25,74.51 579.54,74.42 579.83,72.79 580.13,74.55 580.42,73.56 580.71,74.85 581,73.07 581.3,73.56 581.59,72.93 581.88,72.69 582.17,73.47 582.47,74.36 582.76,73.34 583.05,72.57 583.34,73.73 583.64,72.65 583.93,73.04 584.22,71.34 584.52,71.48 584.81,74.15 585.1,72.27 585.39,74.53 585.69,75.17 585.98,74.64 586.27,74.29 586.56,73.75 586.86,73.56 587.15,72.94 587.44,73.79 587.73,74.12 588.03,73.41 588.32,75.29 588.61,75.2 588.9,72.98 589.2,73.38 589.49,73.64 589.78,72.47 590.08,71.76 590.37,73.35 590.66,72.96 590.95,73.71 591.25,74.47 591.54,73.44 591.83,74.64 592.12,73.56 592.42,74.62 592.71,73.56 593,75.02 593.29,73.82 593.59,75.48 593.88,73.35 594.17,74.8 594.46,75.14 594.76,75.06 595.05,73.82 595.34,73.37 595.64,71.86 595.93,72.36 596.22,71.13 596.51,69.82 596.81,69.63 597.1,70.99 597.39,70.44 597.68,69.62 597.98,70.15 598.27,72.53 598.56,72.57 598.85,73.33 599.15,73.53 599.44,72.77 599.73,75.06 600.03,74 600.32,74.25 600.61,74.2 600.9,73.38 601.2,75.62 601.49,75.62 601.78,73.05 602.07,73.15 602.37,73.99 602.66,75.46 602.95,73.87 603.24,74.72 603.54,72.79 603.83,72.97 604.12,73.85 604.41,73.61 604.71,73.02 605,73.79 605.29,74.51 605.59,74.07 605.88,73.61 606.17,73.71 606.46,75.12 606.76,73.69 607.05,73.63 607.34,73.91 607.63,75.81 607.93,75.79 608.22,74.35 608.51,73.49 608.8,73.77 609.1,74.45 609.39,73.01 609.68,73.33 609.97,73.03 610.27,73.04 610.56,73.75 610.85,73.39 611.15,73.01 611.44,75.02 611.73,75.79 612.02,74.99 612.32,73.9 612.61,75.76 612.9,75.75 613.19,75.76 613.49,75.06 613.78,75.81 614.07,73.91 614.36,74.84 614.66,75.96 614.95,75.9 615.24,75.18 615.53,74.17 615.83,73.55 616.12,72.02 616.41,70.89 616.71,72.62 617,72.33 617.29,72.61 617.58,73.34 617.88,73.45 618.17,73.75 618.46,75.15 618.75,74.15 619.05,74.24 619.34,75.64 619.63,73.54 619.92,75.65 620.22,73.81 620.51,74.31 620.8,73.54 621.09,72.51 621.39,70.54 621.68,72.41 621.97,72.49 622.27,72.89 622.56,74.1 622.85,74.92 623.14,74.4 623.44,74.55 623.73,74.07 624.02,73.95 624.31,75.19 624.61,76.15 624.9,73.79 625.19,75.3 625.48,75.15 625.78,75.51 626.07,74.23 626.36,73.73 626.65,73.11 626.95,73.57 627.24,72.54 627.53,71.87 627.83,70.66 628.12,71.84 628.41,72.71 628.7,74.66 629,73.94 629.29,75.53 629.58,75.75 629.87,75.07 630.17,74.11 630.46,74.36 630.75,75.19 631.04,75.65 631.34,74.21 631.63,75.42 631.92,76.12 632.22,75.61 632.51,75.94 632.8,75.96 633.09,73.82 633.39,73.29 633.68,74.85 633.97,73.33 634.26,72.67 634.56,74.37 634.85,74.34 635.14,73.89 635.43,76.06 635.73,74.99 636.02,76.43 636.31,74.53 636.6,73.95 636.9,76.24 637.19,74.6 637.48,76.3 637.78,75.11 638.07,75.65 638.36,74.02 638.65,74.25 638.95,75.07 639.24,75.38 639.53,74.58 639.82,74.49 640.12,74.12 640.41,74.92 640.7,73.39 640.99,73.53 641.29,74.19 641.58,75.32 641.87,74.85 642.16,73.99 642.46,74.25 642.75,74.68 643.04,74.83 643.34,74.79 643.63,75.47 643.92,75.72 644.21,76.23 644.51,74.98 644.8,76.48 645.09,74.94 645.38,74.94 645.68,74.66 645.97,75.15 646.26,74.45 646.55,72.95 646.85,72.31 647.14,71.6 647.43,72.49 647.72,72.66 648.02,74 648.31,74.09 648.6,75.6 648.9,76 649.19,75.35 649.48,75.35 649.77,74.99 650.07,76.65 650.36,76.74 650.65,75.8 650.94,76.35 651.24,75.08 651.53,75.66 651.82,75.07 652.11,76.63 652.41,75.7 652.7,76.43 652.99,75.5 653.28,73.62 653.58,73.57 653.87,73.82 654.16,74.72 654.46,74.59 654.75,74.42 655.04,75.65 655.33,75.75 655.63,76.71 655.92,75.73 656.21,74.12 656.5,76.76 656.8,74.49 657.09,75.08 657.38,76.71 657.67,75.92 657.97,75.93 658.26,75.22 658.55,75.04 658.84,74.61 659.14,75.58 659.43,74.19 659.72,73.28 660.02,73.4 660.31,73.36 660.6,75.67 660.89,74.29 661.19,74.45 661.48,75.76 661.77,74.89 662.06,76.29 662.36,75.99 662.65,75.73 662.94,75.42 663.23,75.16 663.53,75.33 663.82,76.05 664.11,74.31 664.4,74.77 664.7,76.03 664.99,76.04 665.28,75.62 665.58,74.66 665.87,74.34 666.16,74.84 666.45,73.73 666.75,74.7 667.04,74.68 667.33,74.72 667.62,74.82 667.92,75.92 668.21,75.31 668.5,74.78 668.79,74.76 669.09,74.43 669.38,75.84 669.67,76.25 669.97,75.83 670.26,74.54 670.55,76.08 670.84,76.18 671.14,75.19 671.43,75.67 671.72,74.4 672.01,75.81 672.31,74.25 672.6,75.13 672.89,76.37 673.18,75.84 673.48,75.06 673.77,76.32 674.06,75.23 674.35,75.65 674.65,74.09 674.94,74.35 675.23,74.4 675.53,73.12 675.82,73.77 676.11,74.09 676.4,74.56 676.7,76.8 676.99,76.01 677.28,76.17 677.57,76.71 677.87,74.72 678.16,76.27 678.45,75.65 678.74,75.26 679.04,76.25 679.33,76.4 679.62,75.85 679.91,76.1 680.21,76.54 680.5,75.22" fill="none" stroke="#1b6fe3" stroke-width="2.0" stroke-linejoin="round"/>
<rect x="358.6" y="3.6" width="321.9" height="243.3" fill="none" stroke="#000" stroke-width="2"/>
<path d="M358.6,246.9 V251.9 M385.43,246.9 V255.1 M412.25,246.9 V251.9 M439.08,246.9 V255.1 M465.9,246.9 V251.9 M492.73,246.9 V255.1 M519.55,246.9 V251.9 M546.38,246.9 V255.1 M573.2,246.9 V251.9 M600.03,246.9 V255.1 M626.85,246.9 V251.9 M653.67,246.9 V255.1 M680.5,246.9 V251.9" stroke="#000" stroke-width="2" fill="none"/>
<text x="384.73" y="269.7" font-size="15.5" font-weight="bold" text-anchor="middle">10</text>
<text x="438.38" y="269.7" font-size="15.5" font-weight="bold" text-anchor="middle">20</text>
<text x="492.03" y="269.7" font-size="15.5" font-weight="bold" text-anchor="middle">30</text>
<text x="545.67" y="269.7" font-size="15.5" font-weight="bold" text-anchor="middle">40</text>
<text x="599.33" y="269.7" font-size="15.5" font-weight="bold" text-anchor="middle">50</text>
<text x="652.97" y="269.7" font-size="15.5" font-weight="bold" text-anchor="middle">60</text>
<text x="501.5" y="283.6" font-size="16"><tspan font-weight="bold">2</tspan>θ(° )</text>
<text transform="translate(348.8,122) rotate(-90)" font-size="22" font-weight="bold" text-anchor="middle">Intensity(a.u.)</text>
<text transform="translate(361.6,25.3) scale(1.05,1)" font-size="20.3" font-weight="bold">(b)</text>
<path d="M618,53 H654" stroke="#1b6fe3" stroke-width="2"/>
<text x="658.1" y="58" font-size="14.5" font-weight="bold">E9</text>
<path d="M618,125.7 H654" stroke="#f3474a" stroke-width="2"/>
<text x="658.1" y="130.7" font-size="14.5" font-weight="bold">E8</text>
<path d="M618,198.6 H654" stroke="#505050" stroke-width="2"/>
<text x="658.1" y="203.6" font-size="14.5" font-weight="bold">E7</text>
<text transform="translate(369.6,48.2) scale(0.915,1)" font-size="16.5">T</text>
<text transform="translate(403,55) scale(0.915,1)" font-size="16.5">S</text>
<text transform="translate(421,52.5) scale(0.915,1)" font-size="16.5">K</text>
<text transform="translate(438,53.4) scale(0.915,1)" font-size="16.5">Q</text>
<text transform="translate(457.4,48) scale(0.915,1)" font-size="16.5">S</text>
<text transform="translate(470.7,18.8) scale(0.915,1)" font-size="16.5">Q</text>
<text transform="translate(485,54) scale(0.915,1)" font-size="16.5">T</text>
<text transform="translate(499,39) scale(0.915,1)" font-size="16.5">Ha</text>
<text transform="translate(540.5,61.4) scale(0.915,1)" font-size="16.5">Q</text>
<text transform="translate(571.6,59.2) scale(0.915,1)" font-size="16.5">Ha</text>
<text transform="translate(369.5,127.8) scale(0.915,1)" font-size="16.5">T</text>
<text transform="translate(402.9,131.5) scale(0.915,1)" font-size="16.5">S</text>
<text transform="translate(423.9,130.4) scale(0.915,1)" font-size="16.5">K</text>
<text transform="translate(439.6,137.5) scale(0.915,1)" font-size="16.5">Q</text>
<text transform="translate(459.6,123.2) scale(0.915,1)" font-size="16.5">S</text>
<text transform="translate(483.2,127.8) scale(0.915,1)" font-size="16.5">T</text>
<text transform="translate(497.7,121.8) scale(0.915,1)" font-size="16.5">Ha</text>
<text transform="translate(540.5,142.8) scale(0.915,1)" font-size="16.5">Q</text>
<text transform="translate(571.6,146) scale(0.915,1)" font-size="16.5">Ha</text>
<text transform="translate(400.8,216.8) scale(0.915,1)" font-size="16.5">S</text>
<text transform="translate(421.3,215.5) scale(0.915,1)" font-size="16.5">K</text>
<text transform="translate(441.7,219.4) scale(0.915,1)" font-size="16.5">Q</text>
<text transform="translate(458,212) scale(0.915,1)" font-size="16.5">S</text>
<text transform="translate(499,187.3) scale(0.915,1)" font-size="16.5">Ha</text>
<text transform="translate(541.9,224.3) scale(0.915,1)" font-size="16.5">Q</text>
<text transform="translate(571.6,216.8) scale(0.915,1)" font-size="16.5">Ha</text>
</g>
<g>
<rect x="220.5" y="293.4" width="286.3" height="219.6" fill="#fff"/>
<rect x="239.9" y="376.73" width="57" height="136.27" fill="#5670fc" stroke="#000" stroke-width="1.65"/>
<path d="M262.2,371.85 H274.6 M262.2,381.61 H274.6 M268.4,371.85 V381.61" stroke="#000" stroke-width="2" fill="none"/>
<rect x="335.2" y="330.73" width="57" height="182.27" fill="#5670fc" stroke="#000" stroke-width="1.65"/>
<path d="M357.5,325.85 H369.9 M357.5,335.61 H369.9 M363.7,325.85 V335.61" stroke="#000" stroke-width="2" fill="none"/>
<rect x="430.75" y="350.01" width="57" height="162.99" fill="#5670fc" stroke="#000" stroke-width="1.65"/>
<path d="M453.05,347.57 H465.45 M453.05,352.45 H465.45 M459.25,347.57 V352.45" stroke="#000" stroke-width="2" fill="none"/>
<rect x="220.5" y="293.4" width="286.3" height="219.6" fill="none" stroke="#000" stroke-width="1.9"/>
<path d="M213.2,513 H220.5 M216.2,488.6 H220.5 M213.2,464.2 H220.5 M216.2,439.8 H220.5 M213.2,415.4 H220.5 M216.2,391 H220.5 M213.2,366.6 H220.5 M216.2,342.2 H220.5 M213.2,317.8 H220.5 M216.2,293.4 H220.5 M268.4,513 V519.6 M363.7,513 V519.6 M459.25,513 V519.6" stroke="#000" stroke-width="1.9" fill="none"/>
<text x="208.8" y="517.4" font-size="14" font-weight="bold" text-anchor="end">0.0</text>
<text x="208.8" y="468.6" font-size="14" font-weight="bold" text-anchor="end">0.2</text>
<text x="208.8" y="419.8" font-size="14" font-weight="bold" text-anchor="end">0.4</text>
<text x="208.8" y="371" font-size="14" font-weight="bold" text-anchor="end">0.6</text>
<text x="208.8" y="322.2" font-size="14" font-weight="bold" text-anchor="end">0.8</text>
<text transform="translate(272.3,554.1) scale(0.95,1)" font-size="17" font-weight="bold">magnetic stirring time (h)</text>
<text transform="translate(268.4,534.5) scale(0.92,1)" font-size="14" font-weight="bold" text-anchor="middle">E7</text>
<text x="268.4" y="545.2" font-size="12.8" font-weight="bold" text-anchor="middle">4</text>
<text transform="translate(363.7,534.5) scale(0.92,1)" font-size="14" font-weight="bold" text-anchor="middle">E8</text>
<text x="363.7" y="545.2" font-size="12.8" font-weight="bold" text-anchor="middle">8</text>
<text transform="translate(459.25,534.5) scale(0.92,1)" font-size="14" font-weight="bold" text-anchor="middle">E9</text>
<text x="459.25" y="545.2" font-size="12.8" font-weight="bold" text-anchor="middle">12</text>
<text transform="translate(188.3,395.4) rotate(-90) scale(1.07,1)" font-size="13.2" font-weight="bold" text-anchor="middle">CEC(meq/g)</text>
<text x="230" y="314.8" font-size="19" font-weight="bold">(c)</text>
</g>
</svg></body></html>
